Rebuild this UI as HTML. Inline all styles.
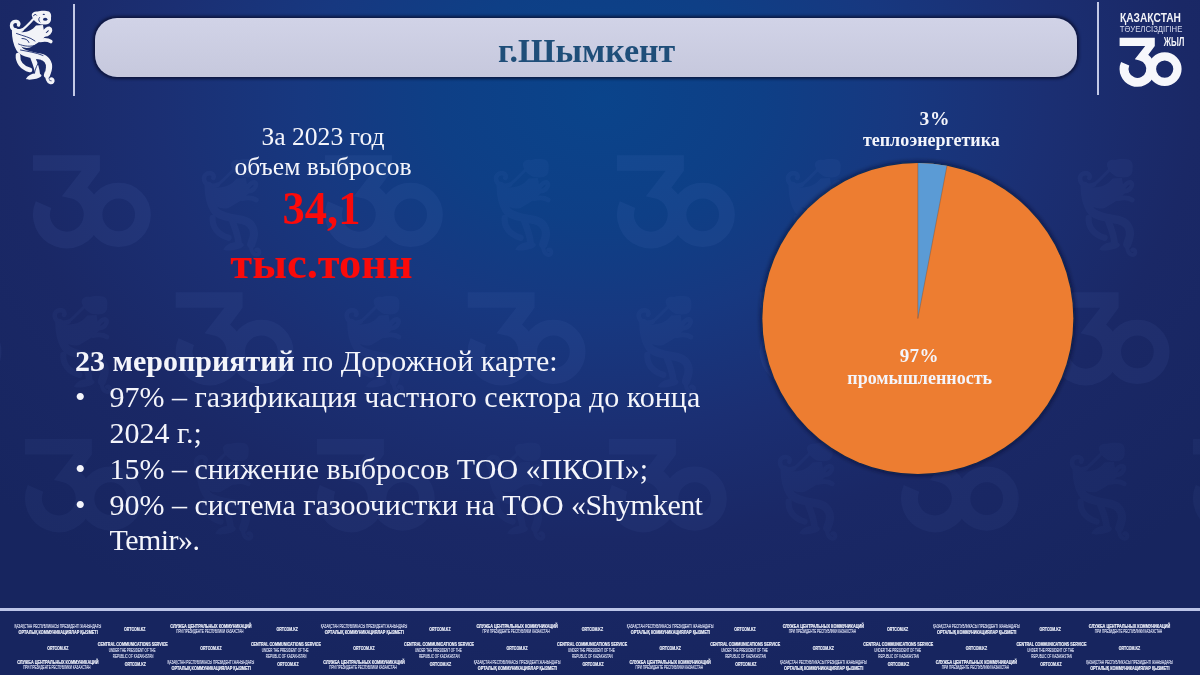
<!DOCTYPE html>
<html>
<head>
<meta charset="utf-8">
<style>
html,body{margin:0;padding:0;}
body{width:1200px;height:675px;overflow:hidden;position:relative;
  background:#17255f;
  font-family:"Liberation Serif", serif;}
#bg{position:absolute;left:0;top:0;width:1200px;height:675px;
  background:radial-gradient(ellipse 540px 400px at 600px 100px,#0a448b 0%,#0e3f86 30%,#173880 55%,#1b2f73 82%,#1a2866 110%,#17255f 150%);}
#wrap{position:absolute;left:0;top:0;width:1200px;height:675px;overflow:hidden;filter:blur(0.45px);}
.abs{position:absolute;white-space:nowrap;}
#pill{position:absolute;left:95px;top:17.5px;width:982px;height:59px;border-radius:22px;
  background:linear-gradient(#d1d3e7,#c6c8dd);
  box-shadow:0 0 3px 1.5px rgba(8,12,40,0.7);filter:blur(0.7px);}
#title{left:486.65px;width:200px;top:33.5px;text-align:center;font-weight:bold;font-size:34px;line-height:34px;color:#1f4e79;}
.vline{position:absolute;width:2px;background:#c3c9e6;}
.w{color:#f4f5fb;}
.red{color:#fb0a0a;font-weight:bold;}
#left1{left:223px;width:200px;top:121.8px;text-align:center;font-size:25.6px;line-height:29.7px;}
#left2{left:221.5px;width:200px;top:182.2px;text-align:center;font-size:44.5px;line-height:54.1px;}
#list{left:75px;top:342.9px;font-size:30px;line-height:35.9px;color:#f4f5fb;}
#list .li{position:relative;padding-left:34.5px;}
#list .li:before{content:"•";position:absolute;left:0;}
#list .n{padding-left:34.5px;}
.lab{position:absolute;text-align:center;font-weight:bold;font-size:18px;line-height:21.5px;color:#f4f5fb;}
#footline{position:absolute;left:0;top:608px;width:1200px;height:2.5px;background:#bcc5e8;}
.ft{position:absolute;font-family:"Liberation Sans",sans-serif;color:#e4e7f5;text-align:center;white-space:nowrap;font-weight:bold;font-size:10px;line-height:11px;transform:scale(0.5);transform-origin:0 0;letter-spacing:-0.3px;}
.ft .thin{font-weight:normal;color:#cfd4ec;}
</style>
</head>
<body>
<div id="wrap">
<div id="bg"></div>
<svg class="abs" style="left:0;top:0" width="1200" height="675" viewBox="0 0 1200 675"><g transform="translate(-259.0,155.2) scale(1.9)" opacity="0.085"><g fill="#6a8ad8"><path d="M0 0 H35.2 V8.2 L28.5 17.2 L20.1 22.8 L15.2 21.6 L25.6 8.2 H0 Z"/></g>
<g fill="none" stroke="#6a8ad8" stroke-width="8.9">
<path d="M21.26 18.4 A13.35 13.35 0 1 1 5.55 26"/>
<circle cx="45.1" cy="31.4" r="12.75" stroke-width="8.3"/>
</g>
</g><g transform="translate(-103.3,144.7) scale(1.33)" opacity="0.059">
  <g fill="#6a8ad8">
    <path d="M31.7 15 C32 12.5 34.5 11 37.7 11.5 C40 10.5 46 10.3 49 11.5 C51 12.8 51.5 15.5 51 18 C51.3 20 50.5 22 49.5 23 C48 24.5 45 24.8 42 24.5 C39.5 24.5 37.5 23.5 36 22 C34 20.5 32 17.5 31.7 15 Z"/>
    <path d="M16 31 C23 33.5 31 32 36 25.5 L43 25 C43.5 29 44.5 33 45.5 36 C42 40.5 36 44.5 30 47.5 C25 49 19.5 47 16.5 42 Z"/>
    <path d="M26 78.8 C28 75.5 31 73.5 36 73.2 C39 73 41.5 74 41.5 75.5 C41 77.5 38 78.5 33 79.3 C30 79.8 27 79.8 26 78.8 Z"/>
  </g>
  <g fill="none" stroke="#6a8ad8" stroke-linecap="round" stroke-linejoin="round">
    <path d="M33.5 19 C30 22.5 26 27 22 30" stroke-width="2.2"/>
    <path d="M22 30 C17 32 11.5 30 11.5 25.5 C11.5 22.5 14 21 16.5 21.5 C18.5 22 19.5 23.5 18.5 25" stroke-width="3.4"/>
    <path d="M15 31 C15 38 16.5 44 19 48.5 C22 54 32 55 40 56.5 C47 58 49.5 63 49 68 C48.7 71 47.5 73 47 75" stroke-width="6.2"/>
    <path d="M47 75 C46.5 78 47.5 82 50.5 82.8 C52.5 83.2 53.5 81.5 53 80 C52.5 78.8 51.5 78.5 50.8 79" stroke-width="3"/>
    <path d="M43.5 33 C45.5 30 47.5 28 49.5 28.3 C51 28.8 51 31 49.3 33 C47.8 34.5 46 35 44.5 35" stroke-width="3.4"/>
    <path d="M40 40.5 C44.5 39.5 48.5 40 50.8 41.5" stroke-width="3.6"/>
    <path d="M18 55 C17.5 61.5 21.5 67.5 30 70" stroke-width="4.6"/>
    <path d="M33 58 C35 63 37 68 37.5 74" stroke-width="5"/>
  </g>
  <g fill="none" stroke="none" stroke-width="0.9" stroke-linecap="round">
    <path d="M39.5 17.5 C38.2 19 38.5 21 40 22"/><path d="M33.5 15.8 C34 14.2 36 13.8 36.6 15.2"/>
    <path d="M16.5 33.5 C23 36 30 37 35 41"/>
    <path d="M22 38.5 C25 38.5 28 39.5 29 42.5"/>
    <path d="M20.5 50 C28 51.5 36 52.5 43 55.5"/>
    <path d="M40 60 C37.5 64 35 69 34.5 73"/>
    <path d="M22 59 C23.5 62.5 26 64.5 29.5 65.5"/><path d="M18.5 44 C24 46.5 31 47 36.5 45"/><path d="M37 60.5 C41 62.5 44.5 66 45 71"/>
  </g>
  <ellipse cx="45.2" cy="19.2" rx="2.2" ry="1.5" fill="none"/><ellipse cx="43.8" cy="14.3" rx="1.2" ry="0.6" fill="none"/>
</g><g transform="translate(33.0,155.2) scale(1.9)" opacity="0.085"><g fill="#6a8ad8"><path d="M0 0 H35.2 V8.2 L28.5 17.2 L20.1 22.8 L15.2 21.6 L25.6 8.2 H0 Z"/></g>
<g fill="none" stroke="#6a8ad8" stroke-width="8.9">
<path d="M21.26 18.4 A13.35 13.35 0 1 1 5.55 26"/>
<circle cx="45.1" cy="31.4" r="12.75" stroke-width="8.3"/>
</g>
</g><g transform="translate(188.7,144.7) scale(1.33)" opacity="0.059">
  <g fill="#6a8ad8">
    <path d="M31.7 15 C32 12.5 34.5 11 37.7 11.5 C40 10.5 46 10.3 49 11.5 C51 12.8 51.5 15.5 51 18 C51.3 20 50.5 22 49.5 23 C48 24.5 45 24.8 42 24.5 C39.5 24.5 37.5 23.5 36 22 C34 20.5 32 17.5 31.7 15 Z"/>
    <path d="M16 31 C23 33.5 31 32 36 25.5 L43 25 C43.5 29 44.5 33 45.5 36 C42 40.5 36 44.5 30 47.5 C25 49 19.5 47 16.5 42 Z"/>
    <path d="M26 78.8 C28 75.5 31 73.5 36 73.2 C39 73 41.5 74 41.5 75.5 C41 77.5 38 78.5 33 79.3 C30 79.8 27 79.8 26 78.8 Z"/>
  </g>
  <g fill="none" stroke="#6a8ad8" stroke-linecap="round" stroke-linejoin="round">
    <path d="M33.5 19 C30 22.5 26 27 22 30" stroke-width="2.2"/>
    <path d="M22 30 C17 32 11.5 30 11.5 25.5 C11.5 22.5 14 21 16.5 21.5 C18.5 22 19.5 23.5 18.5 25" stroke-width="3.4"/>
    <path d="M15 31 C15 38 16.5 44 19 48.5 C22 54 32 55 40 56.5 C47 58 49.5 63 49 68 C48.7 71 47.5 73 47 75" stroke-width="6.2"/>
    <path d="M47 75 C46.5 78 47.5 82 50.5 82.8 C52.5 83.2 53.5 81.5 53 80 C52.5 78.8 51.5 78.5 50.8 79" stroke-width="3"/>
    <path d="M43.5 33 C45.5 30 47.5 28 49.5 28.3 C51 28.8 51 31 49.3 33 C47.8 34.5 46 35 44.5 35" stroke-width="3.4"/>
    <path d="M40 40.5 C44.5 39.5 48.5 40 50.8 41.5" stroke-width="3.6"/>
    <path d="M18 55 C17.5 61.5 21.5 67.5 30 70" stroke-width="4.6"/>
    <path d="M33 58 C35 63 37 68 37.5 74" stroke-width="5"/>
  </g>
  <g fill="none" stroke="none" stroke-width="0.9" stroke-linecap="round">
    <path d="M39.5 17.5 C38.2 19 38.5 21 40 22"/><path d="M33.5 15.8 C34 14.2 36 13.8 36.6 15.2"/>
    <path d="M16.5 33.5 C23 36 30 37 35 41"/>
    <path d="M22 38.5 C25 38.5 28 39.5 29 42.5"/>
    <path d="M20.5 50 C28 51.5 36 52.5 43 55.5"/>
    <path d="M40 60 C37.5 64 35 69 34.5 73"/>
    <path d="M22 59 C23.5 62.5 26 64.5 29.5 65.5"/><path d="M18.5 44 C24 46.5 31 47 36.5 45"/><path d="M37 60.5 C41 62.5 44.5 66 45 71"/>
  </g>
  <ellipse cx="45.2" cy="19.2" rx="2.2" ry="1.5" fill="none"/><ellipse cx="43.8" cy="14.3" rx="1.2" ry="0.6" fill="none"/>
</g><g transform="translate(325.0,155.2) scale(1.9)" opacity="0.085"><g fill="#6a8ad8"><path d="M0 0 H35.2 V8.2 L28.5 17.2 L20.1 22.8 L15.2 21.6 L25.6 8.2 H0 Z"/></g>
<g fill="none" stroke="#6a8ad8" stroke-width="8.9">
<path d="M21.26 18.4 A13.35 13.35 0 1 1 5.55 26"/>
<circle cx="45.1" cy="31.4" r="12.75" stroke-width="8.3"/>
</g>
</g><g transform="translate(480.7,144.7) scale(1.33)" opacity="0.059">
  <g fill="#6a8ad8">
    <path d="M31.7 15 C32 12.5 34.5 11 37.7 11.5 C40 10.5 46 10.3 49 11.5 C51 12.8 51.5 15.5 51 18 C51.3 20 50.5 22 49.5 23 C48 24.5 45 24.8 42 24.5 C39.5 24.5 37.5 23.5 36 22 C34 20.5 32 17.5 31.7 15 Z"/>
    <path d="M16 31 C23 33.5 31 32 36 25.5 L43 25 C43.5 29 44.5 33 45.5 36 C42 40.5 36 44.5 30 47.5 C25 49 19.5 47 16.5 42 Z"/>
    <path d="M26 78.8 C28 75.5 31 73.5 36 73.2 C39 73 41.5 74 41.5 75.5 C41 77.5 38 78.5 33 79.3 C30 79.8 27 79.8 26 78.8 Z"/>
  </g>
  <g fill="none" stroke="#6a8ad8" stroke-linecap="round" stroke-linejoin="round">
    <path d="M33.5 19 C30 22.5 26 27 22 30" stroke-width="2.2"/>
    <path d="M22 30 C17 32 11.5 30 11.5 25.5 C11.5 22.5 14 21 16.5 21.5 C18.5 22 19.5 23.5 18.5 25" stroke-width="3.4"/>
    <path d="M15 31 C15 38 16.5 44 19 48.5 C22 54 32 55 40 56.5 C47 58 49.5 63 49 68 C48.7 71 47.5 73 47 75" stroke-width="6.2"/>
    <path d="M47 75 C46.5 78 47.5 82 50.5 82.8 C52.5 83.2 53.5 81.5 53 80 C52.5 78.8 51.5 78.5 50.8 79" stroke-width="3"/>
    <path d="M43.5 33 C45.5 30 47.5 28 49.5 28.3 C51 28.8 51 31 49.3 33 C47.8 34.5 46 35 44.5 35" stroke-width="3.4"/>
    <path d="M40 40.5 C44.5 39.5 48.5 40 50.8 41.5" stroke-width="3.6"/>
    <path d="M18 55 C17.5 61.5 21.5 67.5 30 70" stroke-width="4.6"/>
    <path d="M33 58 C35 63 37 68 37.5 74" stroke-width="5"/>
  </g>
  <g fill="none" stroke="none" stroke-width="0.9" stroke-linecap="round">
    <path d="M39.5 17.5 C38.2 19 38.5 21 40 22"/><path d="M33.5 15.8 C34 14.2 36 13.8 36.6 15.2"/>
    <path d="M16.5 33.5 C23 36 30 37 35 41"/>
    <path d="M22 38.5 C25 38.5 28 39.5 29 42.5"/>
    <path d="M20.5 50 C28 51.5 36 52.5 43 55.5"/>
    <path d="M40 60 C37.5 64 35 69 34.5 73"/>
    <path d="M22 59 C23.5 62.5 26 64.5 29.5 65.5"/><path d="M18.5 44 C24 46.5 31 47 36.5 45"/><path d="M37 60.5 C41 62.5 44.5 66 45 71"/>
  </g>
  <ellipse cx="45.2" cy="19.2" rx="2.2" ry="1.5" fill="none"/><ellipse cx="43.8" cy="14.3" rx="1.2" ry="0.6" fill="none"/>
</g><g transform="translate(617.0,155.2) scale(1.9)" opacity="0.085"><g fill="#6a8ad8"><path d="M0 0 H35.2 V8.2 L28.5 17.2 L20.1 22.8 L15.2 21.6 L25.6 8.2 H0 Z"/></g>
<g fill="none" stroke="#6a8ad8" stroke-width="8.9">
<path d="M21.26 18.4 A13.35 13.35 0 1 1 5.55 26"/>
<circle cx="45.1" cy="31.4" r="12.75" stroke-width="8.3"/>
</g>
</g><g transform="translate(772.7,144.7) scale(1.33)" opacity="0.059">
  <g fill="#6a8ad8">
    <path d="M31.7 15 C32 12.5 34.5 11 37.7 11.5 C40 10.5 46 10.3 49 11.5 C51 12.8 51.5 15.5 51 18 C51.3 20 50.5 22 49.5 23 C48 24.5 45 24.8 42 24.5 C39.5 24.5 37.5 23.5 36 22 C34 20.5 32 17.5 31.7 15 Z"/>
    <path d="M16 31 C23 33.5 31 32 36 25.5 L43 25 C43.5 29 44.5 33 45.5 36 C42 40.5 36 44.5 30 47.5 C25 49 19.5 47 16.5 42 Z"/>
    <path d="M26 78.8 C28 75.5 31 73.5 36 73.2 C39 73 41.5 74 41.5 75.5 C41 77.5 38 78.5 33 79.3 C30 79.8 27 79.8 26 78.8 Z"/>
  </g>
  <g fill="none" stroke="#6a8ad8" stroke-linecap="round" stroke-linejoin="round">
    <path d="M33.5 19 C30 22.5 26 27 22 30" stroke-width="2.2"/>
    <path d="M22 30 C17 32 11.5 30 11.5 25.5 C11.5 22.5 14 21 16.5 21.5 C18.5 22 19.5 23.5 18.5 25" stroke-width="3.4"/>
    <path d="M15 31 C15 38 16.5 44 19 48.5 C22 54 32 55 40 56.5 C47 58 49.5 63 49 68 C48.7 71 47.5 73 47 75" stroke-width="6.2"/>
    <path d="M47 75 C46.5 78 47.5 82 50.5 82.8 C52.5 83.2 53.5 81.5 53 80 C52.5 78.8 51.5 78.5 50.8 79" stroke-width="3"/>
    <path d="M43.5 33 C45.5 30 47.5 28 49.5 28.3 C51 28.8 51 31 49.3 33 C47.8 34.5 46 35 44.5 35" stroke-width="3.4"/>
    <path d="M40 40.5 C44.5 39.5 48.5 40 50.8 41.5" stroke-width="3.6"/>
    <path d="M18 55 C17.5 61.5 21.5 67.5 30 70" stroke-width="4.6"/>
    <path d="M33 58 C35 63 37 68 37.5 74" stroke-width="5"/>
  </g>
  <g fill="none" stroke="none" stroke-width="0.9" stroke-linecap="round">
    <path d="M39.5 17.5 C38.2 19 38.5 21 40 22"/><path d="M33.5 15.8 C34 14.2 36 13.8 36.6 15.2"/>
    <path d="M16.5 33.5 C23 36 30 37 35 41"/>
    <path d="M22 38.5 C25 38.5 28 39.5 29 42.5"/>
    <path d="M20.5 50 C28 51.5 36 52.5 43 55.5"/>
    <path d="M40 60 C37.5 64 35 69 34.5 73"/>
    <path d="M22 59 C23.5 62.5 26 64.5 29.5 65.5"/><path d="M18.5 44 C24 46.5 31 47 36.5 45"/><path d="M37 60.5 C41 62.5 44.5 66 45 71"/>
  </g>
  <ellipse cx="45.2" cy="19.2" rx="2.2" ry="1.5" fill="none"/><ellipse cx="43.8" cy="14.3" rx="1.2" ry="0.6" fill="none"/>
</g><g transform="translate(1064.7,144.7) scale(1.33)" opacity="0.059">
  <g fill="#6a8ad8">
    <path d="M31.7 15 C32 12.5 34.5 11 37.7 11.5 C40 10.5 46 10.3 49 11.5 C51 12.8 51.5 15.5 51 18 C51.3 20 50.5 22 49.5 23 C48 24.5 45 24.8 42 24.5 C39.5 24.5 37.5 23.5 36 22 C34 20.5 32 17.5 31.7 15 Z"/>
    <path d="M16 31 C23 33.5 31 32 36 25.5 L43 25 C43.5 29 44.5 33 45.5 36 C42 40.5 36 44.5 30 47.5 C25 49 19.5 47 16.5 42 Z"/>
    <path d="M26 78.8 C28 75.5 31 73.5 36 73.2 C39 73 41.5 74 41.5 75.5 C41 77.5 38 78.5 33 79.3 C30 79.8 27 79.8 26 78.8 Z"/>
  </g>
  <g fill="none" stroke="#6a8ad8" stroke-linecap="round" stroke-linejoin="round">
    <path d="M33.5 19 C30 22.5 26 27 22 30" stroke-width="2.2"/>
    <path d="M22 30 C17 32 11.5 30 11.5 25.5 C11.5 22.5 14 21 16.5 21.5 C18.5 22 19.5 23.5 18.5 25" stroke-width="3.4"/>
    <path d="M15 31 C15 38 16.5 44 19 48.5 C22 54 32 55 40 56.5 C47 58 49.5 63 49 68 C48.7 71 47.5 73 47 75" stroke-width="6.2"/>
    <path d="M47 75 C46.5 78 47.5 82 50.5 82.8 C52.5 83.2 53.5 81.5 53 80 C52.5 78.8 51.5 78.5 50.8 79" stroke-width="3"/>
    <path d="M43.5 33 C45.5 30 47.5 28 49.5 28.3 C51 28.8 51 31 49.3 33 C47.8 34.5 46 35 44.5 35" stroke-width="3.4"/>
    <path d="M40 40.5 C44.5 39.5 48.5 40 50.8 41.5" stroke-width="3.6"/>
    <path d="M18 55 C17.5 61.5 21.5 67.5 30 70" stroke-width="4.6"/>
    <path d="M33 58 C35 63 37 68 37.5 74" stroke-width="5"/>
  </g>
  <g fill="none" stroke="none" stroke-width="0.9" stroke-linecap="round">
    <path d="M39.5 17.5 C38.2 19 38.5 21 40 22"/><path d="M33.5 15.8 C34 14.2 36 13.8 36.6 15.2"/>
    <path d="M16.5 33.5 C23 36 30 37 35 41"/>
    <path d="M22 38.5 C25 38.5 28 39.5 29 42.5"/>
    <path d="M20.5 50 C28 51.5 36 52.5 43 55.5"/>
    <path d="M40 60 C37.5 64 35 69 34.5 73"/>
    <path d="M22 59 C23.5 62.5 26 64.5 29.5 65.5"/><path d="M18.5 44 C24 46.5 31 47 36.5 45"/><path d="M37 60.5 C41 62.5 44.5 66 45 71"/>
  </g>
  <ellipse cx="45.2" cy="19.2" rx="2.2" ry="1.5" fill="none"/><ellipse cx="43.8" cy="14.3" rx="1.2" ry="0.6" fill="none"/>
</g><g transform="translate(1201.0,155.2) scale(1.9)" opacity="0.085"><g fill="#6a8ad8"><path d="M0 0 H35.2 V8.2 L28.5 17.2 L20.1 22.8 L15.2 21.6 L25.6 8.2 H0 Z"/></g>
<g fill="none" stroke="#6a8ad8" stroke-width="8.9">
<path d="M21.26 18.4 A13.35 13.35 0 1 1 5.55 26"/>
<circle cx="45.1" cy="31.4" r="12.75" stroke-width="8.3"/>
</g>
</g><g transform="translate(1356.7,144.7) scale(1.33)" opacity="0.059">
  <g fill="#6a8ad8">
    <path d="M31.7 15 C32 12.5 34.5 11 37.7 11.5 C40 10.5 46 10.3 49 11.5 C51 12.8 51.5 15.5 51 18 C51.3 20 50.5 22 49.5 23 C48 24.5 45 24.8 42 24.5 C39.5 24.5 37.5 23.5 36 22 C34 20.5 32 17.5 31.7 15 Z"/>
    <path d="M16 31 C23 33.5 31 32 36 25.5 L43 25 C43.5 29 44.5 33 45.5 36 C42 40.5 36 44.5 30 47.5 C25 49 19.5 47 16.5 42 Z"/>
    <path d="M26 78.8 C28 75.5 31 73.5 36 73.2 C39 73 41.5 74 41.5 75.5 C41 77.5 38 78.5 33 79.3 C30 79.8 27 79.8 26 78.8 Z"/>
  </g>
  <g fill="none" stroke="#6a8ad8" stroke-linecap="round" stroke-linejoin="round">
    <path d="M33.5 19 C30 22.5 26 27 22 30" stroke-width="2.2"/>
    <path d="M22 30 C17 32 11.5 30 11.5 25.5 C11.5 22.5 14 21 16.5 21.5 C18.5 22 19.5 23.5 18.5 25" stroke-width="3.4"/>
    <path d="M15 31 C15 38 16.5 44 19 48.5 C22 54 32 55 40 56.5 C47 58 49.5 63 49 68 C48.7 71 47.5 73 47 75" stroke-width="6.2"/>
    <path d="M47 75 C46.5 78 47.5 82 50.5 82.8 C52.5 83.2 53.5 81.5 53 80 C52.5 78.8 51.5 78.5 50.8 79" stroke-width="3"/>
    <path d="M43.5 33 C45.5 30 47.5 28 49.5 28.3 C51 28.8 51 31 49.3 33 C47.8 34.5 46 35 44.5 35" stroke-width="3.4"/>
    <path d="M40 40.5 C44.5 39.5 48.5 40 50.8 41.5" stroke-width="3.6"/>
    <path d="M18 55 C17.5 61.5 21.5 67.5 30 70" stroke-width="4.6"/>
    <path d="M33 58 C35 63 37 68 37.5 74" stroke-width="5"/>
  </g>
  <g fill="none" stroke="none" stroke-width="0.9" stroke-linecap="round">
    <path d="M39.5 17.5 C38.2 19 38.5 21 40 22"/><path d="M33.5 15.8 C34 14.2 36 13.8 36.6 15.2"/>
    <path d="M16.5 33.5 C23 36 30 37 35 41"/>
    <path d="M22 38.5 C25 38.5 28 39.5 29 42.5"/>
    <path d="M20.5 50 C28 51.5 36 52.5 43 55.5"/>
    <path d="M40 60 C37.5 64 35 69 34.5 73"/>
    <path d="M22 59 C23.5 62.5 26 64.5 29.5 65.5"/><path d="M18.5 44 C24 46.5 31 47 36.5 45"/><path d="M37 60.5 C41 62.5 44.5 66 45 71"/>
  </g>
  <ellipse cx="45.2" cy="19.2" rx="2.2" ry="1.5" fill="none"/><ellipse cx="43.8" cy="14.3" rx="1.2" ry="0.6" fill="none"/>
</g><g transform="translate(-408.3,292.2) scale(1.9)" opacity="0.075"><g fill="#6a8ad8"><path d="M0 0 H35.2 V8.2 L28.5 17.2 L20.1 22.8 L15.2 21.6 L25.6 8.2 H0 Z"/></g>
<g fill="none" stroke="#6a8ad8" stroke-width="8.9">
<path d="M21.26 18.4 A13.35 13.35 0 1 1 5.55 26"/>
<circle cx="45.1" cy="31.4" r="12.75" stroke-width="8.3"/>
</g>
</g><g transform="translate(-252.6,281.7) scale(1.33)" opacity="0.052">
  <g fill="#6a8ad8">
    <path d="M31.7 15 C32 12.5 34.5 11 37.7 11.5 C40 10.5 46 10.3 49 11.5 C51 12.8 51.5 15.5 51 18 C51.3 20 50.5 22 49.5 23 C48 24.5 45 24.8 42 24.5 C39.5 24.5 37.5 23.5 36 22 C34 20.5 32 17.5 31.7 15 Z"/>
    <path d="M16 31 C23 33.5 31 32 36 25.5 L43 25 C43.5 29 44.5 33 45.5 36 C42 40.5 36 44.5 30 47.5 C25 49 19.5 47 16.5 42 Z"/>
    <path d="M26 78.8 C28 75.5 31 73.5 36 73.2 C39 73 41.5 74 41.5 75.5 C41 77.5 38 78.5 33 79.3 C30 79.8 27 79.8 26 78.8 Z"/>
  </g>
  <g fill="none" stroke="#6a8ad8" stroke-linecap="round" stroke-linejoin="round">
    <path d="M33.5 19 C30 22.5 26 27 22 30" stroke-width="2.2"/>
    <path d="M22 30 C17 32 11.5 30 11.5 25.5 C11.5 22.5 14 21 16.5 21.5 C18.5 22 19.5 23.5 18.5 25" stroke-width="3.4"/>
    <path d="M15 31 C15 38 16.5 44 19 48.5 C22 54 32 55 40 56.5 C47 58 49.5 63 49 68 C48.7 71 47.5 73 47 75" stroke-width="6.2"/>
    <path d="M47 75 C46.5 78 47.5 82 50.5 82.8 C52.5 83.2 53.5 81.5 53 80 C52.5 78.8 51.5 78.5 50.8 79" stroke-width="3"/>
    <path d="M43.5 33 C45.5 30 47.5 28 49.5 28.3 C51 28.8 51 31 49.3 33 C47.8 34.5 46 35 44.5 35" stroke-width="3.4"/>
    <path d="M40 40.5 C44.5 39.5 48.5 40 50.8 41.5" stroke-width="3.6"/>
    <path d="M18 55 C17.5 61.5 21.5 67.5 30 70" stroke-width="4.6"/>
    <path d="M33 58 C35 63 37 68 37.5 74" stroke-width="5"/>
  </g>
  <g fill="none" stroke="none" stroke-width="0.9" stroke-linecap="round">
    <path d="M39.5 17.5 C38.2 19 38.5 21 40 22"/><path d="M33.5 15.8 C34 14.2 36 13.8 36.6 15.2"/>
    <path d="M16.5 33.5 C23 36 30 37 35 41"/>
    <path d="M22 38.5 C25 38.5 28 39.5 29 42.5"/>
    <path d="M20.5 50 C28 51.5 36 52.5 43 55.5"/>
    <path d="M40 60 C37.5 64 35 69 34.5 73"/>
    <path d="M22 59 C23.5 62.5 26 64.5 29.5 65.5"/><path d="M18.5 44 C24 46.5 31 47 36.5 45"/><path d="M37 60.5 C41 62.5 44.5 66 45 71"/>
  </g>
  <ellipse cx="45.2" cy="19.2" rx="2.2" ry="1.5" fill="none"/><ellipse cx="43.8" cy="14.3" rx="1.2" ry="0.6" fill="none"/>
</g><g transform="translate(-116.3,292.2) scale(1.9)" opacity="0.075"><g fill="#6a8ad8"><path d="M0 0 H35.2 V8.2 L28.5 17.2 L20.1 22.8 L15.2 21.6 L25.6 8.2 H0 Z"/></g>
<g fill="none" stroke="#6a8ad8" stroke-width="8.9">
<path d="M21.26 18.4 A13.35 13.35 0 1 1 5.55 26"/>
<circle cx="45.1" cy="31.4" r="12.75" stroke-width="8.3"/>
</g>
</g><g transform="translate(39.4,281.7) scale(1.33)" opacity="0.052">
  <g fill="#6a8ad8">
    <path d="M31.7 15 C32 12.5 34.5 11 37.7 11.5 C40 10.5 46 10.3 49 11.5 C51 12.8 51.5 15.5 51 18 C51.3 20 50.5 22 49.5 23 C48 24.5 45 24.8 42 24.5 C39.5 24.5 37.5 23.5 36 22 C34 20.5 32 17.5 31.7 15 Z"/>
    <path d="M16 31 C23 33.5 31 32 36 25.5 L43 25 C43.5 29 44.5 33 45.5 36 C42 40.5 36 44.5 30 47.5 C25 49 19.5 47 16.5 42 Z"/>
    <path d="M26 78.8 C28 75.5 31 73.5 36 73.2 C39 73 41.5 74 41.5 75.5 C41 77.5 38 78.5 33 79.3 C30 79.8 27 79.8 26 78.8 Z"/>
  </g>
  <g fill="none" stroke="#6a8ad8" stroke-linecap="round" stroke-linejoin="round">
    <path d="M33.5 19 C30 22.5 26 27 22 30" stroke-width="2.2"/>
    <path d="M22 30 C17 32 11.5 30 11.5 25.5 C11.5 22.5 14 21 16.5 21.5 C18.5 22 19.5 23.5 18.5 25" stroke-width="3.4"/>
    <path d="M15 31 C15 38 16.5 44 19 48.5 C22 54 32 55 40 56.5 C47 58 49.5 63 49 68 C48.7 71 47.5 73 47 75" stroke-width="6.2"/>
    <path d="M47 75 C46.5 78 47.5 82 50.5 82.8 C52.5 83.2 53.5 81.5 53 80 C52.5 78.8 51.5 78.5 50.8 79" stroke-width="3"/>
    <path d="M43.5 33 C45.5 30 47.5 28 49.5 28.3 C51 28.8 51 31 49.3 33 C47.8 34.5 46 35 44.5 35" stroke-width="3.4"/>
    <path d="M40 40.5 C44.5 39.5 48.5 40 50.8 41.5" stroke-width="3.6"/>
    <path d="M18 55 C17.5 61.5 21.5 67.5 30 70" stroke-width="4.6"/>
    <path d="M33 58 C35 63 37 68 37.5 74" stroke-width="5"/>
  </g>
  <g fill="none" stroke="none" stroke-width="0.9" stroke-linecap="round">
    <path d="M39.5 17.5 C38.2 19 38.5 21 40 22"/><path d="M33.5 15.8 C34 14.2 36 13.8 36.6 15.2"/>
    <path d="M16.5 33.5 C23 36 30 37 35 41"/>
    <path d="M22 38.5 C25 38.5 28 39.5 29 42.5"/>
    <path d="M20.5 50 C28 51.5 36 52.5 43 55.5"/>
    <path d="M40 60 C37.5 64 35 69 34.5 73"/>
    <path d="M22 59 C23.5 62.5 26 64.5 29.5 65.5"/><path d="M18.5 44 C24 46.5 31 47 36.5 45"/><path d="M37 60.5 C41 62.5 44.5 66 45 71"/>
  </g>
  <ellipse cx="45.2" cy="19.2" rx="2.2" ry="1.5" fill="none"/><ellipse cx="43.8" cy="14.3" rx="1.2" ry="0.6" fill="none"/>
</g><g transform="translate(175.7,292.2) scale(1.9)" opacity="0.075"><g fill="#6a8ad8"><path d="M0 0 H35.2 V8.2 L28.5 17.2 L20.1 22.8 L15.2 21.6 L25.6 8.2 H0 Z"/></g>
<g fill="none" stroke="#6a8ad8" stroke-width="8.9">
<path d="M21.26 18.4 A13.35 13.35 0 1 1 5.55 26"/>
<circle cx="45.1" cy="31.4" r="12.75" stroke-width="8.3"/>
</g>
</g><g transform="translate(331.4,281.7) scale(1.33)" opacity="0.052">
  <g fill="#6a8ad8">
    <path d="M31.7 15 C32 12.5 34.5 11 37.7 11.5 C40 10.5 46 10.3 49 11.5 C51 12.8 51.5 15.5 51 18 C51.3 20 50.5 22 49.5 23 C48 24.5 45 24.8 42 24.5 C39.5 24.5 37.5 23.5 36 22 C34 20.5 32 17.5 31.7 15 Z"/>
    <path d="M16 31 C23 33.5 31 32 36 25.5 L43 25 C43.5 29 44.5 33 45.5 36 C42 40.5 36 44.5 30 47.5 C25 49 19.5 47 16.5 42 Z"/>
    <path d="M26 78.8 C28 75.5 31 73.5 36 73.2 C39 73 41.5 74 41.5 75.5 C41 77.5 38 78.5 33 79.3 C30 79.8 27 79.8 26 78.8 Z"/>
  </g>
  <g fill="none" stroke="#6a8ad8" stroke-linecap="round" stroke-linejoin="round">
    <path d="M33.5 19 C30 22.5 26 27 22 30" stroke-width="2.2"/>
    <path d="M22 30 C17 32 11.5 30 11.5 25.5 C11.5 22.5 14 21 16.5 21.5 C18.5 22 19.5 23.5 18.5 25" stroke-width="3.4"/>
    <path d="M15 31 C15 38 16.5 44 19 48.5 C22 54 32 55 40 56.5 C47 58 49.5 63 49 68 C48.7 71 47.5 73 47 75" stroke-width="6.2"/>
    <path d="M47 75 C46.5 78 47.5 82 50.5 82.8 C52.5 83.2 53.5 81.5 53 80 C52.5 78.8 51.5 78.5 50.8 79" stroke-width="3"/>
    <path d="M43.5 33 C45.5 30 47.5 28 49.5 28.3 C51 28.8 51 31 49.3 33 C47.8 34.5 46 35 44.5 35" stroke-width="3.4"/>
    <path d="M40 40.5 C44.5 39.5 48.5 40 50.8 41.5" stroke-width="3.6"/>
    <path d="M18 55 C17.5 61.5 21.5 67.5 30 70" stroke-width="4.6"/>
    <path d="M33 58 C35 63 37 68 37.5 74" stroke-width="5"/>
  </g>
  <g fill="none" stroke="none" stroke-width="0.9" stroke-linecap="round">
    <path d="M39.5 17.5 C38.2 19 38.5 21 40 22"/><path d="M33.5 15.8 C34 14.2 36 13.8 36.6 15.2"/>
    <path d="M16.5 33.5 C23 36 30 37 35 41"/>
    <path d="M22 38.5 C25 38.5 28 39.5 29 42.5"/>
    <path d="M20.5 50 C28 51.5 36 52.5 43 55.5"/>
    <path d="M40 60 C37.5 64 35 69 34.5 73"/>
    <path d="M22 59 C23.5 62.5 26 64.5 29.5 65.5"/><path d="M18.5 44 C24 46.5 31 47 36.5 45"/><path d="M37 60.5 C41 62.5 44.5 66 45 71"/>
  </g>
  <ellipse cx="45.2" cy="19.2" rx="2.2" ry="1.5" fill="none"/><ellipse cx="43.8" cy="14.3" rx="1.2" ry="0.6" fill="none"/>
</g><g transform="translate(467.7,292.2) scale(1.9)" opacity="0.075"><g fill="#6a8ad8"><path d="M0 0 H35.2 V8.2 L28.5 17.2 L20.1 22.8 L15.2 21.6 L25.6 8.2 H0 Z"/></g>
<g fill="none" stroke="#6a8ad8" stroke-width="8.9">
<path d="M21.26 18.4 A13.35 13.35 0 1 1 5.55 26"/>
<circle cx="45.1" cy="31.4" r="12.75" stroke-width="8.3"/>
</g>
</g><g transform="translate(623.4,281.7) scale(1.33)" opacity="0.052">
  <g fill="#6a8ad8">
    <path d="M31.7 15 C32 12.5 34.5 11 37.7 11.5 C40 10.5 46 10.3 49 11.5 C51 12.8 51.5 15.5 51 18 C51.3 20 50.5 22 49.5 23 C48 24.5 45 24.8 42 24.5 C39.5 24.5 37.5 23.5 36 22 C34 20.5 32 17.5 31.7 15 Z"/>
    <path d="M16 31 C23 33.5 31 32 36 25.5 L43 25 C43.5 29 44.5 33 45.5 36 C42 40.5 36 44.5 30 47.5 C25 49 19.5 47 16.5 42 Z"/>
    <path d="M26 78.8 C28 75.5 31 73.5 36 73.2 C39 73 41.5 74 41.5 75.5 C41 77.5 38 78.5 33 79.3 C30 79.8 27 79.8 26 78.8 Z"/>
  </g>
  <g fill="none" stroke="#6a8ad8" stroke-linecap="round" stroke-linejoin="round">
    <path d="M33.5 19 C30 22.5 26 27 22 30" stroke-width="2.2"/>
    <path d="M22 30 C17 32 11.5 30 11.5 25.5 C11.5 22.5 14 21 16.5 21.5 C18.5 22 19.5 23.5 18.5 25" stroke-width="3.4"/>
    <path d="M15 31 C15 38 16.5 44 19 48.5 C22 54 32 55 40 56.5 C47 58 49.5 63 49 68 C48.7 71 47.5 73 47 75" stroke-width="6.2"/>
    <path d="M47 75 C46.5 78 47.5 82 50.5 82.8 C52.5 83.2 53.5 81.5 53 80 C52.5 78.8 51.5 78.5 50.8 79" stroke-width="3"/>
    <path d="M43.5 33 C45.5 30 47.5 28 49.5 28.3 C51 28.8 51 31 49.3 33 C47.8 34.5 46 35 44.5 35" stroke-width="3.4"/>
    <path d="M40 40.5 C44.5 39.5 48.5 40 50.8 41.5" stroke-width="3.6"/>
    <path d="M18 55 C17.5 61.5 21.5 67.5 30 70" stroke-width="4.6"/>
    <path d="M33 58 C35 63 37 68 37.5 74" stroke-width="5"/>
  </g>
  <g fill="none" stroke="none" stroke-width="0.9" stroke-linecap="round">
    <path d="M39.5 17.5 C38.2 19 38.5 21 40 22"/><path d="M33.5 15.8 C34 14.2 36 13.8 36.6 15.2"/>
    <path d="M16.5 33.5 C23 36 30 37 35 41"/>
    <path d="M22 38.5 C25 38.5 28 39.5 29 42.5"/>
    <path d="M20.5 50 C28 51.5 36 52.5 43 55.5"/>
    <path d="M40 60 C37.5 64 35 69 34.5 73"/>
    <path d="M22 59 C23.5 62.5 26 64.5 29.5 65.5"/><path d="M18.5 44 C24 46.5 31 47 36.5 45"/><path d="M37 60.5 C41 62.5 44.5 66 45 71"/>
  </g>
  <ellipse cx="45.2" cy="19.2" rx="2.2" ry="1.5" fill="none"/><ellipse cx="43.8" cy="14.3" rx="1.2" ry="0.6" fill="none"/>
</g><g transform="translate(759.7,292.2) scale(1.9)" opacity="0.075"><g fill="#6a8ad8"><path d="M0 0 H35.2 V8.2 L28.5 17.2 L20.1 22.8 L15.2 21.6 L25.6 8.2 H0 Z"/></g>
<g fill="none" stroke="#6a8ad8" stroke-width="8.9">
<path d="M21.26 18.4 A13.35 13.35 0 1 1 5.55 26"/>
<circle cx="45.1" cy="31.4" r="12.75" stroke-width="8.3"/>
</g>
</g><g transform="translate(915.4,281.7) scale(1.33)" opacity="0.052">
  <g fill="#6a8ad8">
    <path d="M31.7 15 C32 12.5 34.5 11 37.7 11.5 C40 10.5 46 10.3 49 11.5 C51 12.8 51.5 15.5 51 18 C51.3 20 50.5 22 49.5 23 C48 24.5 45 24.8 42 24.5 C39.5 24.5 37.5 23.5 36 22 C34 20.5 32 17.5 31.7 15 Z"/>
    <path d="M16 31 C23 33.5 31 32 36 25.5 L43 25 C43.5 29 44.5 33 45.5 36 C42 40.5 36 44.5 30 47.5 C25 49 19.5 47 16.5 42 Z"/>
    <path d="M26 78.8 C28 75.5 31 73.5 36 73.2 C39 73 41.5 74 41.5 75.5 C41 77.5 38 78.5 33 79.3 C30 79.8 27 79.8 26 78.8 Z"/>
  </g>
  <g fill="none" stroke="#6a8ad8" stroke-linecap="round" stroke-linejoin="round">
    <path d="M33.5 19 C30 22.5 26 27 22 30" stroke-width="2.2"/>
    <path d="M22 30 C17 32 11.5 30 11.5 25.5 C11.5 22.5 14 21 16.5 21.5 C18.5 22 19.5 23.5 18.5 25" stroke-width="3.4"/>
    <path d="M15 31 C15 38 16.5 44 19 48.5 C22 54 32 55 40 56.5 C47 58 49.5 63 49 68 C48.7 71 47.5 73 47 75" stroke-width="6.2"/>
    <path d="M47 75 C46.5 78 47.5 82 50.5 82.8 C52.5 83.2 53.5 81.5 53 80 C52.5 78.8 51.5 78.5 50.8 79" stroke-width="3"/>
    <path d="M43.5 33 C45.5 30 47.5 28 49.5 28.3 C51 28.8 51 31 49.3 33 C47.8 34.5 46 35 44.5 35" stroke-width="3.4"/>
    <path d="M40 40.5 C44.5 39.5 48.5 40 50.8 41.5" stroke-width="3.6"/>
    <path d="M18 55 C17.5 61.5 21.5 67.5 30 70" stroke-width="4.6"/>
    <path d="M33 58 C35 63 37 68 37.5 74" stroke-width="5"/>
  </g>
  <g fill="none" stroke="none" stroke-width="0.9" stroke-linecap="round">
    <path d="M39.5 17.5 C38.2 19 38.5 21 40 22"/><path d="M33.5 15.8 C34 14.2 36 13.8 36.6 15.2"/>
    <path d="M16.5 33.5 C23 36 30 37 35 41"/>
    <path d="M22 38.5 C25 38.5 28 39.5 29 42.5"/>
    <path d="M20.5 50 C28 51.5 36 52.5 43 55.5"/>
    <path d="M40 60 C37.5 64 35 69 34.5 73"/>
    <path d="M22 59 C23.5 62.5 26 64.5 29.5 65.5"/><path d="M18.5 44 C24 46.5 31 47 36.5 45"/><path d="M37 60.5 C41 62.5 44.5 66 45 71"/>
  </g>
  <ellipse cx="45.2" cy="19.2" rx="2.2" ry="1.5" fill="none"/><ellipse cx="43.8" cy="14.3" rx="1.2" ry="0.6" fill="none"/>
</g><g transform="translate(1051.7,292.2) scale(1.9)" opacity="0.075"><g fill="#6a8ad8"><path d="M0 0 H35.2 V8.2 L28.5 17.2 L20.1 22.8 L15.2 21.6 L25.6 8.2 H0 Z"/></g>
<g fill="none" stroke="#6a8ad8" stroke-width="8.9">
<path d="M21.26 18.4 A13.35 13.35 0 1 1 5.55 26"/>
<circle cx="45.1" cy="31.4" r="12.75" stroke-width="8.3"/>
</g>
</g><g transform="translate(1207.4,281.7) scale(1.33)" opacity="0.052">
  <g fill="#6a8ad8">
    <path d="M31.7 15 C32 12.5 34.5 11 37.7 11.5 C40 10.5 46 10.3 49 11.5 C51 12.8 51.5 15.5 51 18 C51.3 20 50.5 22 49.5 23 C48 24.5 45 24.8 42 24.5 C39.5 24.5 37.5 23.5 36 22 C34 20.5 32 17.5 31.7 15 Z"/>
    <path d="M16 31 C23 33.5 31 32 36 25.5 L43 25 C43.5 29 44.5 33 45.5 36 C42 40.5 36 44.5 30 47.5 C25 49 19.5 47 16.5 42 Z"/>
    <path d="M26 78.8 C28 75.5 31 73.5 36 73.2 C39 73 41.5 74 41.5 75.5 C41 77.5 38 78.5 33 79.3 C30 79.8 27 79.8 26 78.8 Z"/>
  </g>
  <g fill="none" stroke="#6a8ad8" stroke-linecap="round" stroke-linejoin="round">
    <path d="M33.5 19 C30 22.5 26 27 22 30" stroke-width="2.2"/>
    <path d="M22 30 C17 32 11.5 30 11.5 25.5 C11.5 22.5 14 21 16.5 21.5 C18.5 22 19.5 23.5 18.5 25" stroke-width="3.4"/>
    <path d="M15 31 C15 38 16.5 44 19 48.5 C22 54 32 55 40 56.5 C47 58 49.5 63 49 68 C48.7 71 47.5 73 47 75" stroke-width="6.2"/>
    <path d="M47 75 C46.5 78 47.5 82 50.5 82.8 C52.5 83.2 53.5 81.5 53 80 C52.5 78.8 51.5 78.5 50.8 79" stroke-width="3"/>
    <path d="M43.5 33 C45.5 30 47.5 28 49.5 28.3 C51 28.8 51 31 49.3 33 C47.8 34.5 46 35 44.5 35" stroke-width="3.4"/>
    <path d="M40 40.5 C44.5 39.5 48.5 40 50.8 41.5" stroke-width="3.6"/>
    <path d="M18 55 C17.5 61.5 21.5 67.5 30 70" stroke-width="4.6"/>
    <path d="M33 58 C35 63 37 68 37.5 74" stroke-width="5"/>
  </g>
  <g fill="none" stroke="none" stroke-width="0.9" stroke-linecap="round">
    <path d="M39.5 17.5 C38.2 19 38.5 21 40 22"/><path d="M33.5 15.8 C34 14.2 36 13.8 36.6 15.2"/>
    <path d="M16.5 33.5 C23 36 30 37 35 41"/>
    <path d="M22 38.5 C25 38.5 28 39.5 29 42.5"/>
    <path d="M20.5 50 C28 51.5 36 52.5 43 55.5"/>
    <path d="M40 60 C37.5 64 35 69 34.5 73"/>
    <path d="M22 59 C23.5 62.5 26 64.5 29.5 65.5"/><path d="M18.5 44 C24 46.5 31 47 36.5 45"/><path d="M37 60.5 C41 62.5 44.5 66 45 71"/>
  </g>
  <ellipse cx="45.2" cy="19.2" rx="2.2" ry="1.5" fill="none"/><ellipse cx="43.8" cy="14.3" rx="1.2" ry="0.6" fill="none"/>
</g><g transform="translate(-267.0,439.0) scale(1.9)" opacity="0.06"><g fill="#6a8ad8"><path d="M0 0 H35.2 V8.2 L28.5 17.2 L20.1 22.8 L15.2 21.6 L25.6 8.2 H0 Z"/></g>
<g fill="none" stroke="#6a8ad8" stroke-width="8.9">
<path d="M21.26 18.4 A13.35 13.35 0 1 1 5.55 26"/>
<circle cx="45.1" cy="31.4" r="12.75" stroke-width="8.3"/>
</g>
</g><g transform="translate(-111.3,428.5) scale(1.33)" opacity="0.042">
  <g fill="#6a8ad8">
    <path d="M31.7 15 C32 12.5 34.5 11 37.7 11.5 C40 10.5 46 10.3 49 11.5 C51 12.8 51.5 15.5 51 18 C51.3 20 50.5 22 49.5 23 C48 24.5 45 24.8 42 24.5 C39.5 24.5 37.5 23.5 36 22 C34 20.5 32 17.5 31.7 15 Z"/>
    <path d="M16 31 C23 33.5 31 32 36 25.5 L43 25 C43.5 29 44.5 33 45.5 36 C42 40.5 36 44.5 30 47.5 C25 49 19.5 47 16.5 42 Z"/>
    <path d="M26 78.8 C28 75.5 31 73.5 36 73.2 C39 73 41.5 74 41.5 75.5 C41 77.5 38 78.5 33 79.3 C30 79.8 27 79.8 26 78.8 Z"/>
  </g>
  <g fill="none" stroke="#6a8ad8" stroke-linecap="round" stroke-linejoin="round">
    <path d="M33.5 19 C30 22.5 26 27 22 30" stroke-width="2.2"/>
    <path d="M22 30 C17 32 11.5 30 11.5 25.5 C11.5 22.5 14 21 16.5 21.5 C18.5 22 19.5 23.5 18.5 25" stroke-width="3.4"/>
    <path d="M15 31 C15 38 16.5 44 19 48.5 C22 54 32 55 40 56.5 C47 58 49.5 63 49 68 C48.7 71 47.5 73 47 75" stroke-width="6.2"/>
    <path d="M47 75 C46.5 78 47.5 82 50.5 82.8 C52.5 83.2 53.5 81.5 53 80 C52.5 78.8 51.5 78.5 50.8 79" stroke-width="3"/>
    <path d="M43.5 33 C45.5 30 47.5 28 49.5 28.3 C51 28.8 51 31 49.3 33 C47.8 34.5 46 35 44.5 35" stroke-width="3.4"/>
    <path d="M40 40.5 C44.5 39.5 48.5 40 50.8 41.5" stroke-width="3.6"/>
    <path d="M18 55 C17.5 61.5 21.5 67.5 30 70" stroke-width="4.6"/>
    <path d="M33 58 C35 63 37 68 37.5 74" stroke-width="5"/>
  </g>
  <g fill="none" stroke="none" stroke-width="0.9" stroke-linecap="round">
    <path d="M39.5 17.5 C38.2 19 38.5 21 40 22"/><path d="M33.5 15.8 C34 14.2 36 13.8 36.6 15.2"/>
    <path d="M16.5 33.5 C23 36 30 37 35 41"/>
    <path d="M22 38.5 C25 38.5 28 39.5 29 42.5"/>
    <path d="M20.5 50 C28 51.5 36 52.5 43 55.5"/>
    <path d="M40 60 C37.5 64 35 69 34.5 73"/>
    <path d="M22 59 C23.5 62.5 26 64.5 29.5 65.5"/><path d="M18.5 44 C24 46.5 31 47 36.5 45"/><path d="M37 60.5 C41 62.5 44.5 66 45 71"/>
  </g>
  <ellipse cx="45.2" cy="19.2" rx="2.2" ry="1.5" fill="none"/><ellipse cx="43.8" cy="14.3" rx="1.2" ry="0.6" fill="none"/>
</g><g transform="translate(25.0,439.0) scale(1.9)" opacity="0.06"><g fill="#6a8ad8"><path d="M0 0 H35.2 V8.2 L28.5 17.2 L20.1 22.8 L15.2 21.6 L25.6 8.2 H0 Z"/></g>
<g fill="none" stroke="#6a8ad8" stroke-width="8.9">
<path d="M21.26 18.4 A13.35 13.35 0 1 1 5.55 26"/>
<circle cx="45.1" cy="31.4" r="12.75" stroke-width="8.3"/>
</g>
</g><g transform="translate(180.7,428.5) scale(1.33)" opacity="0.042">
  <g fill="#6a8ad8">
    <path d="M31.7 15 C32 12.5 34.5 11 37.7 11.5 C40 10.5 46 10.3 49 11.5 C51 12.8 51.5 15.5 51 18 C51.3 20 50.5 22 49.5 23 C48 24.5 45 24.8 42 24.5 C39.5 24.5 37.5 23.5 36 22 C34 20.5 32 17.5 31.7 15 Z"/>
    <path d="M16 31 C23 33.5 31 32 36 25.5 L43 25 C43.5 29 44.5 33 45.5 36 C42 40.5 36 44.5 30 47.5 C25 49 19.5 47 16.5 42 Z"/>
    <path d="M26 78.8 C28 75.5 31 73.5 36 73.2 C39 73 41.5 74 41.5 75.5 C41 77.5 38 78.5 33 79.3 C30 79.8 27 79.8 26 78.8 Z"/>
  </g>
  <g fill="none" stroke="#6a8ad8" stroke-linecap="round" stroke-linejoin="round">
    <path d="M33.5 19 C30 22.5 26 27 22 30" stroke-width="2.2"/>
    <path d="M22 30 C17 32 11.5 30 11.5 25.5 C11.5 22.5 14 21 16.5 21.5 C18.5 22 19.5 23.5 18.5 25" stroke-width="3.4"/>
    <path d="M15 31 C15 38 16.5 44 19 48.5 C22 54 32 55 40 56.5 C47 58 49.5 63 49 68 C48.7 71 47.5 73 47 75" stroke-width="6.2"/>
    <path d="M47 75 C46.5 78 47.5 82 50.5 82.8 C52.5 83.2 53.5 81.5 53 80 C52.5 78.8 51.5 78.5 50.8 79" stroke-width="3"/>
    <path d="M43.5 33 C45.5 30 47.5 28 49.5 28.3 C51 28.8 51 31 49.3 33 C47.8 34.5 46 35 44.5 35" stroke-width="3.4"/>
    <path d="M40 40.5 C44.5 39.5 48.5 40 50.8 41.5" stroke-width="3.6"/>
    <path d="M18 55 C17.5 61.5 21.5 67.5 30 70" stroke-width="4.6"/>
    <path d="M33 58 C35 63 37 68 37.5 74" stroke-width="5"/>
  </g>
  <g fill="none" stroke="none" stroke-width="0.9" stroke-linecap="round">
    <path d="M39.5 17.5 C38.2 19 38.5 21 40 22"/><path d="M33.5 15.8 C34 14.2 36 13.8 36.6 15.2"/>
    <path d="M16.5 33.5 C23 36 30 37 35 41"/>
    <path d="M22 38.5 C25 38.5 28 39.5 29 42.5"/>
    <path d="M20.5 50 C28 51.5 36 52.5 43 55.5"/>
    <path d="M40 60 C37.5 64 35 69 34.5 73"/>
    <path d="M22 59 C23.5 62.5 26 64.5 29.5 65.5"/><path d="M18.5 44 C24 46.5 31 47 36.5 45"/><path d="M37 60.5 C41 62.5 44.5 66 45 71"/>
  </g>
  <ellipse cx="45.2" cy="19.2" rx="2.2" ry="1.5" fill="none"/><ellipse cx="43.8" cy="14.3" rx="1.2" ry="0.6" fill="none"/>
</g><g transform="translate(317.0,439.0) scale(1.9)" opacity="0.06"><g fill="#6a8ad8"><path d="M0 0 H35.2 V8.2 L28.5 17.2 L20.1 22.8 L15.2 21.6 L25.6 8.2 H0 Z"/></g>
<g fill="none" stroke="#6a8ad8" stroke-width="8.9">
<path d="M21.26 18.4 A13.35 13.35 0 1 1 5.55 26"/>
<circle cx="45.1" cy="31.4" r="12.75" stroke-width="8.3"/>
</g>
</g><g transform="translate(472.7,428.5) scale(1.33)" opacity="0.042">
  <g fill="#6a8ad8">
    <path d="M31.7 15 C32 12.5 34.5 11 37.7 11.5 C40 10.5 46 10.3 49 11.5 C51 12.8 51.5 15.5 51 18 C51.3 20 50.5 22 49.5 23 C48 24.5 45 24.8 42 24.5 C39.5 24.5 37.5 23.5 36 22 C34 20.5 32 17.5 31.7 15 Z"/>
    <path d="M16 31 C23 33.5 31 32 36 25.5 L43 25 C43.5 29 44.5 33 45.5 36 C42 40.5 36 44.5 30 47.5 C25 49 19.5 47 16.5 42 Z"/>
    <path d="M26 78.8 C28 75.5 31 73.5 36 73.2 C39 73 41.5 74 41.5 75.5 C41 77.5 38 78.5 33 79.3 C30 79.8 27 79.8 26 78.8 Z"/>
  </g>
  <g fill="none" stroke="#6a8ad8" stroke-linecap="round" stroke-linejoin="round">
    <path d="M33.5 19 C30 22.5 26 27 22 30" stroke-width="2.2"/>
    <path d="M22 30 C17 32 11.5 30 11.5 25.5 C11.5 22.5 14 21 16.5 21.5 C18.5 22 19.5 23.5 18.5 25" stroke-width="3.4"/>
    <path d="M15 31 C15 38 16.5 44 19 48.5 C22 54 32 55 40 56.5 C47 58 49.5 63 49 68 C48.7 71 47.5 73 47 75" stroke-width="6.2"/>
    <path d="M47 75 C46.5 78 47.5 82 50.5 82.8 C52.5 83.2 53.5 81.5 53 80 C52.5 78.8 51.5 78.5 50.8 79" stroke-width="3"/>
    <path d="M43.5 33 C45.5 30 47.5 28 49.5 28.3 C51 28.8 51 31 49.3 33 C47.8 34.5 46 35 44.5 35" stroke-width="3.4"/>
    <path d="M40 40.5 C44.5 39.5 48.5 40 50.8 41.5" stroke-width="3.6"/>
    <path d="M18 55 C17.5 61.5 21.5 67.5 30 70" stroke-width="4.6"/>
    <path d="M33 58 C35 63 37 68 37.5 74" stroke-width="5"/>
  </g>
  <g fill="none" stroke="none" stroke-width="0.9" stroke-linecap="round">
    <path d="M39.5 17.5 C38.2 19 38.5 21 40 22"/><path d="M33.5 15.8 C34 14.2 36 13.8 36.6 15.2"/>
    <path d="M16.5 33.5 C23 36 30 37 35 41"/>
    <path d="M22 38.5 C25 38.5 28 39.5 29 42.5"/>
    <path d="M20.5 50 C28 51.5 36 52.5 43 55.5"/>
    <path d="M40 60 C37.5 64 35 69 34.5 73"/>
    <path d="M22 59 C23.5 62.5 26 64.5 29.5 65.5"/><path d="M18.5 44 C24 46.5 31 47 36.5 45"/><path d="M37 60.5 C41 62.5 44.5 66 45 71"/>
  </g>
  <ellipse cx="45.2" cy="19.2" rx="2.2" ry="1.5" fill="none"/><ellipse cx="43.8" cy="14.3" rx="1.2" ry="0.6" fill="none"/>
</g><g transform="translate(609.0,439.0) scale(1.9)" opacity="0.06"><g fill="#6a8ad8"><path d="M0 0 H35.2 V8.2 L28.5 17.2 L20.1 22.8 L15.2 21.6 L25.6 8.2 H0 Z"/></g>
<g fill="none" stroke="#6a8ad8" stroke-width="8.9">
<path d="M21.26 18.4 A13.35 13.35 0 1 1 5.55 26"/>
<circle cx="45.1" cy="31.4" r="12.75" stroke-width="8.3"/>
</g>
</g><g transform="translate(764.7,428.5) scale(1.33)" opacity="0.042">
  <g fill="#6a8ad8">
    <path d="M31.7 15 C32 12.5 34.5 11 37.7 11.5 C40 10.5 46 10.3 49 11.5 C51 12.8 51.5 15.5 51 18 C51.3 20 50.5 22 49.5 23 C48 24.5 45 24.8 42 24.5 C39.5 24.5 37.5 23.5 36 22 C34 20.5 32 17.5 31.7 15 Z"/>
    <path d="M16 31 C23 33.5 31 32 36 25.5 L43 25 C43.5 29 44.5 33 45.5 36 C42 40.5 36 44.5 30 47.5 C25 49 19.5 47 16.5 42 Z"/>
    <path d="M26 78.8 C28 75.5 31 73.5 36 73.2 C39 73 41.5 74 41.5 75.5 C41 77.5 38 78.5 33 79.3 C30 79.8 27 79.8 26 78.8 Z"/>
  </g>
  <g fill="none" stroke="#6a8ad8" stroke-linecap="round" stroke-linejoin="round">
    <path d="M33.5 19 C30 22.5 26 27 22 30" stroke-width="2.2"/>
    <path d="M22 30 C17 32 11.5 30 11.5 25.5 C11.5 22.5 14 21 16.5 21.5 C18.5 22 19.5 23.5 18.5 25" stroke-width="3.4"/>
    <path d="M15 31 C15 38 16.5 44 19 48.5 C22 54 32 55 40 56.5 C47 58 49.5 63 49 68 C48.7 71 47.5 73 47 75" stroke-width="6.2"/>
    <path d="M47 75 C46.5 78 47.5 82 50.5 82.8 C52.5 83.2 53.5 81.5 53 80 C52.5 78.8 51.5 78.5 50.8 79" stroke-width="3"/>
    <path d="M43.5 33 C45.5 30 47.5 28 49.5 28.3 C51 28.8 51 31 49.3 33 C47.8 34.5 46 35 44.5 35" stroke-width="3.4"/>
    <path d="M40 40.5 C44.5 39.5 48.5 40 50.8 41.5" stroke-width="3.6"/>
    <path d="M18 55 C17.5 61.5 21.5 67.5 30 70" stroke-width="4.6"/>
    <path d="M33 58 C35 63 37 68 37.5 74" stroke-width="5"/>
  </g>
  <g fill="none" stroke="none" stroke-width="0.9" stroke-linecap="round">
    <path d="M39.5 17.5 C38.2 19 38.5 21 40 22"/><path d="M33.5 15.8 C34 14.2 36 13.8 36.6 15.2"/>
    <path d="M16.5 33.5 C23 36 30 37 35 41"/>
    <path d="M22 38.5 C25 38.5 28 39.5 29 42.5"/>
    <path d="M20.5 50 C28 51.5 36 52.5 43 55.5"/>
    <path d="M40 60 C37.5 64 35 69 34.5 73"/>
    <path d="M22 59 C23.5 62.5 26 64.5 29.5 65.5"/><path d="M18.5 44 C24 46.5 31 47 36.5 45"/><path d="M37 60.5 C41 62.5 44.5 66 45 71"/>
  </g>
  <ellipse cx="45.2" cy="19.2" rx="2.2" ry="1.5" fill="none"/><ellipse cx="43.8" cy="14.3" rx="1.2" ry="0.6" fill="none"/>
</g><g transform="translate(901.0,439.0) scale(1.9)" opacity="0.06"><g fill="#6a8ad8"><path d="M0 0 H35.2 V8.2 L28.5 17.2 L20.1 22.8 L15.2 21.6 L25.6 8.2 H0 Z"/></g>
<g fill="none" stroke="#6a8ad8" stroke-width="8.9">
<path d="M21.26 18.4 A13.35 13.35 0 1 1 5.55 26"/>
<circle cx="45.1" cy="31.4" r="12.75" stroke-width="8.3"/>
</g>
</g><g transform="translate(1056.7,428.5) scale(1.33)" opacity="0.042">
  <g fill="#6a8ad8">
    <path d="M31.7 15 C32 12.5 34.5 11 37.7 11.5 C40 10.5 46 10.3 49 11.5 C51 12.8 51.5 15.5 51 18 C51.3 20 50.5 22 49.5 23 C48 24.5 45 24.8 42 24.5 C39.5 24.5 37.5 23.5 36 22 C34 20.5 32 17.5 31.7 15 Z"/>
    <path d="M16 31 C23 33.5 31 32 36 25.5 L43 25 C43.5 29 44.5 33 45.5 36 C42 40.5 36 44.5 30 47.5 C25 49 19.5 47 16.5 42 Z"/>
    <path d="M26 78.8 C28 75.5 31 73.5 36 73.2 C39 73 41.5 74 41.5 75.5 C41 77.5 38 78.5 33 79.3 C30 79.8 27 79.8 26 78.8 Z"/>
  </g>
  <g fill="none" stroke="#6a8ad8" stroke-linecap="round" stroke-linejoin="round">
    <path d="M33.5 19 C30 22.5 26 27 22 30" stroke-width="2.2"/>
    <path d="M22 30 C17 32 11.5 30 11.5 25.5 C11.5 22.5 14 21 16.5 21.5 C18.5 22 19.5 23.5 18.5 25" stroke-width="3.4"/>
    <path d="M15 31 C15 38 16.5 44 19 48.5 C22 54 32 55 40 56.5 C47 58 49.5 63 49 68 C48.7 71 47.5 73 47 75" stroke-width="6.2"/>
    <path d="M47 75 C46.5 78 47.5 82 50.5 82.8 C52.5 83.2 53.5 81.5 53 80 C52.5 78.8 51.5 78.5 50.8 79" stroke-width="3"/>
    <path d="M43.5 33 C45.5 30 47.5 28 49.5 28.3 C51 28.8 51 31 49.3 33 C47.8 34.5 46 35 44.5 35" stroke-width="3.4"/>
    <path d="M40 40.5 C44.5 39.5 48.5 40 50.8 41.5" stroke-width="3.6"/>
    <path d="M18 55 C17.5 61.5 21.5 67.5 30 70" stroke-width="4.6"/>
    <path d="M33 58 C35 63 37 68 37.5 74" stroke-width="5"/>
  </g>
  <g fill="none" stroke="none" stroke-width="0.9" stroke-linecap="round">
    <path d="M39.5 17.5 C38.2 19 38.5 21 40 22"/><path d="M33.5 15.8 C34 14.2 36 13.8 36.6 15.2"/>
    <path d="M16.5 33.5 C23 36 30 37 35 41"/>
    <path d="M22 38.5 C25 38.5 28 39.5 29 42.5"/>
    <path d="M20.5 50 C28 51.5 36 52.5 43 55.5"/>
    <path d="M40 60 C37.5 64 35 69 34.5 73"/>
    <path d="M22 59 C23.5 62.5 26 64.5 29.5 65.5"/><path d="M18.5 44 C24 46.5 31 47 36.5 45"/><path d="M37 60.5 C41 62.5 44.5 66 45 71"/>
  </g>
  <ellipse cx="45.2" cy="19.2" rx="2.2" ry="1.5" fill="none"/><ellipse cx="43.8" cy="14.3" rx="1.2" ry="0.6" fill="none"/>
</g><g transform="translate(1193.0,439.0) scale(1.9)" opacity="0.06"><g fill="#6a8ad8"><path d="M0 0 H35.2 V8.2 L28.5 17.2 L20.1 22.8 L15.2 21.6 L25.6 8.2 H0 Z"/></g>
<g fill="none" stroke="#6a8ad8" stroke-width="8.9">
<path d="M21.26 18.4 A13.35 13.35 0 1 1 5.55 26"/>
<circle cx="45.1" cy="31.4" r="12.75" stroke-width="8.3"/>
</g>
</g><g transform="translate(1348.7,428.5) scale(1.33)" opacity="0.042">
  <g fill="#6a8ad8">
    <path d="M31.7 15 C32 12.5 34.5 11 37.7 11.5 C40 10.5 46 10.3 49 11.5 C51 12.8 51.5 15.5 51 18 C51.3 20 50.5 22 49.5 23 C48 24.5 45 24.8 42 24.5 C39.5 24.5 37.5 23.5 36 22 C34 20.5 32 17.5 31.7 15 Z"/>
    <path d="M16 31 C23 33.5 31 32 36 25.5 L43 25 C43.5 29 44.5 33 45.5 36 C42 40.5 36 44.5 30 47.5 C25 49 19.5 47 16.5 42 Z"/>
    <path d="M26 78.8 C28 75.5 31 73.5 36 73.2 C39 73 41.5 74 41.5 75.5 C41 77.5 38 78.5 33 79.3 C30 79.8 27 79.8 26 78.8 Z"/>
  </g>
  <g fill="none" stroke="#6a8ad8" stroke-linecap="round" stroke-linejoin="round">
    <path d="M33.5 19 C30 22.5 26 27 22 30" stroke-width="2.2"/>
    <path d="M22 30 C17 32 11.5 30 11.5 25.5 C11.5 22.5 14 21 16.5 21.5 C18.5 22 19.5 23.5 18.5 25" stroke-width="3.4"/>
    <path d="M15 31 C15 38 16.5 44 19 48.5 C22 54 32 55 40 56.5 C47 58 49.5 63 49 68 C48.7 71 47.5 73 47 75" stroke-width="6.2"/>
    <path d="M47 75 C46.5 78 47.5 82 50.5 82.8 C52.5 83.2 53.5 81.5 53 80 C52.5 78.8 51.5 78.5 50.8 79" stroke-width="3"/>
    <path d="M43.5 33 C45.5 30 47.5 28 49.5 28.3 C51 28.8 51 31 49.3 33 C47.8 34.5 46 35 44.5 35" stroke-width="3.4"/>
    <path d="M40 40.5 C44.5 39.5 48.5 40 50.8 41.5" stroke-width="3.6"/>
    <path d="M18 55 C17.5 61.5 21.5 67.5 30 70" stroke-width="4.6"/>
    <path d="M33 58 C35 63 37 68 37.5 74" stroke-width="5"/>
  </g>
  <g fill="none" stroke="none" stroke-width="0.9" stroke-linecap="round">
    <path d="M39.5 17.5 C38.2 19 38.5 21 40 22"/><path d="M33.5 15.8 C34 14.2 36 13.8 36.6 15.2"/>
    <path d="M16.5 33.5 C23 36 30 37 35 41"/>
    <path d="M22 38.5 C25 38.5 28 39.5 29 42.5"/>
    <path d="M20.5 50 C28 51.5 36 52.5 43 55.5"/>
    <path d="M40 60 C37.5 64 35 69 34.5 73"/>
    <path d="M22 59 C23.5 62.5 26 64.5 29.5 65.5"/><path d="M18.5 44 C24 46.5 31 47 36.5 45"/><path d="M37 60.5 C41 62.5 44.5 66 45 71"/>
  </g>
  <ellipse cx="45.2" cy="19.2" rx="2.2" ry="1.5" fill="none"/><ellipse cx="43.8" cy="14.3" rx="1.2" ry="0.6" fill="none"/>
</g></svg>

<div id="pill"></div>
<div id="title" class="abs">г.Шымкент</div>

<div class="vline" style="left:72.5px;top:4px;height:92px;"></div>
<div class="vline" style="left:1096.5px;top:2px;height:93px;"></div>

<!-- left logo leopard -->
<svg class="abs" style="left:0;top:0" width="70" height="95" viewBox="0 0 70 95">
<g id="leo">
  <g fill="#f2f3f8">
    <path d="M31.7 15 C32 12.5 34.5 11 37.7 11.5 C40 10.5 46 10.3 49 11.5 C51 12.8 51.5 15.5 51 18 C51.3 20 50.5 22 49.5 23 C48 24.5 45 24.8 42 24.5 C39.5 24.5 37.5 23.5 36 22 C34 20.5 32 17.5 31.7 15 Z"/>
    <path d="M16 31 C23 33.5 31 32 36 25.5 L43 25 C43.5 29 44.5 33 45.5 36 C42 40.5 36 44.5 30 47.5 C25 49 19.5 47 16.5 42 Z"/>
    <path d="M26 78.8 C28 75.5 31 73.5 36 73.2 C39 73 41.5 74 41.5 75.5 C41 77.5 38 78.5 33 79.3 C30 79.8 27 79.8 26 78.8 Z"/>
  </g>
  <g fill="none" stroke="#f2f3f8" stroke-linecap="round" stroke-linejoin="round">
    <path d="M33.5 19 C30 22.5 26 27 22 30" stroke-width="2.2"/>
    <path d="M22 30 C17 32 11.5 30 11.5 25.5 C11.5 22.5 14 21 16.5 21.5 C18.5 22 19.5 23.5 18.5 25" stroke-width="3.4"/>
    <path d="M15 31 C15 38 16.5 44 19 48.5 C22 54 32 55 40 56.5 C47 58 49.5 63 49 68 C48.7 71 47.5 73 47 75" stroke-width="6.2"/>
    <path d="M47 75 C46.5 78 47.5 82 50.5 82.8 C52.5 83.2 53.5 81.5 53 80 C52.5 78.8 51.5 78.5 50.8 79" stroke-width="3"/>
    <path d="M43.5 33 C45.5 30 47.5 28 49.5 28.3 C51 28.8 51 31 49.3 33 C47.8 34.5 46 35 44.5 35" stroke-width="3.4"/>
    <path d="M40 40.5 C44.5 39.5 48.5 40 50.8 41.5" stroke-width="3.6"/>
    <path d="M18 55 C17.5 61.5 21.5 67.5 30 70" stroke-width="4.6"/>
    <path d="M33 58 C35 63 37 68 37.5 74" stroke-width="5"/>
  </g>
  <g fill="none" stroke="#1b2d70" stroke-width="0.9" stroke-linecap="round">
    <path d="M39.5 17.5 C38.2 19 38.5 21 40 22"/><path d="M33.5 15.8 C34 14.2 36 13.8 36.6 15.2"/>
    <path d="M16.5 33.5 C23 36 30 37 35 41"/>
    <path d="M22 38.5 C25 38.5 28 39.5 29 42.5"/>
    <path d="M20.5 50 C28 51.5 36 52.5 43 55.5"/>
    <path d="M40 60 C37.5 64 35 69 34.5 73"/>
    <path d="M22 59 C23.5 62.5 26 64.5 29.5 65.5"/><path d="M18.5 44 C24 46.5 31 47 36.5 45"/><path d="M37 60.5 C41 62.5 44.5 66 45 71"/>
  </g>
  <ellipse cx="45.2" cy="19.2" rx="2.2" ry="1.5" fill="#1b2d70"/><ellipse cx="43.8" cy="14.3" rx="1.2" ry="0.6" fill="#1b2d70"/>
</g>

</svg>

<!-- right logo -->
<div class="abs" style="left:1115px;top:12px;width:66px;text-align:center;font-family:'Liberation Sans',sans-serif;font-weight:bold;font-size:12px;line-height:12px;color:#f2f3f8;transform:scaleX(0.85);transform-origin:50% 0;">ҚАЗАҚСТАН</div>
<div class="abs" style="left:1111.5px;top:24.8px;width:78px;text-align:center;font-family:'Liberation Sans',sans-serif;font-size:9px;line-height:9px;color:#d8dcef;transform:scaleX(0.86);transform-origin:50% 0;">ТӘУЕЛСІЗДІГІНЕ</div>
<div class="abs" style="left:1159px;top:36px;width:26px;text-align:center;font-family:'Liberation Sans',sans-serif;font-weight:bold;font-size:12.5px;line-height:12.5px;color:#f2f3f8;transform:scaleX(0.64);transform-origin:50% 0;">ЖЫЛ</div>
<svg class="abs" style="left:0;top:0" width="1200" height="100" viewBox="0 0 1200 100">
  <g transform="translate(1119.6,37.7)"><g fill="#f6f7fb"><path d="M0 0 H35.2 V8.2 L28.5 17.2 L20.1 22.8 L15.2 21.6 L25.6 8.2 H0 Z"/></g>
<g fill="none" stroke="#f6f7fb" stroke-width="8.9">
<path d="M21.26 18.4 A13.35 13.35 0 1 1 5.55 26"/>
<circle cx="45.1" cy="31.4" r="12.75" stroke-width="8.3"/>
</g>
</g>
</svg>

<div id="left1" class="abs w">За 2023 год<br>объем выбросов</div>
<div id="left2" class="abs red"><div style="transform:scaleY(1.035);transform-origin:50% 42px;">34,1</div><div>тыс.тонн</div></div>

<div id="list" class="abs">
  <div><b>23 мероприятий</b> по Дорожной карте:</div>
  <div class="li">97% – газификация частного сектора до конца</div>
  <div class="n">2024 г.;</div>
  <div class="li">15% – снижение выбросов ТОО «ПКОП»;</div>
  <div class="li">90% – система газоочистки на ТОО <span style="letter-spacing:-0.6px">«Shymkent</span></div>
  <div class="n" style="letter-spacing:-0.55px">Temir».</div>
</div>

<!-- pie -->
<svg class="abs" style="left:0;top:0" width="1200" height="675" viewBox="0 0 1200 675">
  <defs><filter id="psh" x="-20%" y="-20%" width="140%" height="140%"><feGaussianBlur stdDeviation="2.2"/></filter></defs>
  <circle cx="917.85" cy="318.5" r="157.5" fill="rgba(8,12,40,0.55)" filter="url(#psh)"/>
  <circle cx="917.85" cy="318.5" r="155.5" fill="#ed7d31"/>
  <path d="M917.85 318.5 L917.85 163 A155.5 155.5 0 0 1 946.99 165.75 Z" fill="#5b9bd5"/>
  <path d="M917.85 318.5 L917.85 163 M917.85 318.5 L946.99 165.75" stroke="rgba(120,70,40,0.45)" stroke-width="0.8" fill="none"/>
</svg>
<div class="lab" style="left:855px;top:107.9px;width:160px;font-size:19.5px;letter-spacing:0.8px;">3%</div>
<div class="lab" style="left:851.4px;top:130px;width:160px;">теплоэнергетика</div>
<div class="lab" style="left:839.25px;top:344.7px;width:160px;font-size:19px;letter-spacing:0.3px;">97%</div><div class="lab" style="left:839.7px;top:367.6px;width:160px;">промышленность</div>

<div id="footline"></div>
<svg class="abs" style="left:0;top:0" width="1200" height="675" viewBox="0 0 1200 675" font-family="Liberation Sans, sans-serif"><text x="-95.3" y="627.8" text-anchor="middle" textLength="81.3" lengthAdjust="spacingAndGlyphs" font-weight="bold" fill="#eceff9" stroke="#eceff9" stroke-width="0.22" font-size="5.6">СЛУЖБА ЦЕНТРАЛЬНЫХ КОММУНИКАЦИЙ</text><text x="-96.3" y="633.3" text-anchor="middle" textLength="67.3" lengthAdjust="spacingAndGlyphs" font-weight="normal" fill="#d9ddf2" stroke="#d9ddf2" stroke-width="0.18" font-size="5.6">ПРИ ПРЕЗИДЕНТЕ РЕСПУБЛИКИ КАЗАХСТАН</text><text x="-95.3" y="663.6" text-anchor="middle" textLength="86.7" lengthAdjust="spacingAndGlyphs" font-weight="normal" fill="#d9ddf2" stroke="#d9ddf2" stroke-width="0.18" font-size="5.6">ҚАЗАҚСТАН РЕСПУБЛИКАСЫ ПРЕЗИДЕНТІ ЖАНЫНДАҒЫ</text><text x="-95.0" y="669.6" text-anchor="middle" textLength="79.3" lengthAdjust="spacingAndGlyphs" font-weight="bold" fill="#eceff9" stroke="#eceff9" stroke-width="0.22" font-size="5.6">ОРТАЛЫҚ КОММУНИКАЦИЯЛАР ҚЫЗМЕТІ</text><text x="-95.3" y="650.3" text-anchor="middle" textLength="21.3" lengthAdjust="spacingAndGlyphs" font-weight="bold" fill="#eceff9" stroke="#eceff9" stroke-width="0.22" font-size="5.8">ORTCOM.KZ</text><text x="-17.9" y="630.9" text-anchor="middle" textLength="21.3" lengthAdjust="spacingAndGlyphs" font-weight="bold" fill="#eceff9" stroke="#eceff9" stroke-width="0.22" font-size="5.8">ORTCOM.KZ</text><text x="-17.2" y="665.8" text-anchor="middle" textLength="21.3" lengthAdjust="spacingAndGlyphs" font-weight="bold" fill="#eceff9" stroke="#eceff9" stroke-width="0.22" font-size="5.8">ORTCOM.KZ</text><text x="57.8" y="627.8" text-anchor="middle" textLength="86.7" lengthAdjust="spacingAndGlyphs" font-weight="normal" fill="#d9ddf2" stroke="#d9ddf2" stroke-width="0.18" font-size="5.6">ҚАЗАҚСТАН РЕСПУБЛИКАСЫ ПРЕЗИДЕНТІ ЖАНЫНДАҒЫ</text><text x="58.1" y="633.8" text-anchor="middle" textLength="79.3" lengthAdjust="spacingAndGlyphs" font-weight="bold" fill="#eceff9" stroke="#eceff9" stroke-width="0.22" font-size="5.6">ОРТАЛЫҚ КОММУНИКАЦИЯЛАР ҚЫЗМЕТІ</text><text x="57.8" y="663.6" text-anchor="middle" textLength="81.3" lengthAdjust="spacingAndGlyphs" font-weight="bold" fill="#eceff9" stroke="#eceff9" stroke-width="0.22" font-size="5.6">СЛУЖБА ЦЕНТРАЛЬНЫХ КОММУНИКАЦИЙ</text><text x="56.8" y="669.1" text-anchor="middle" textLength="67.3" lengthAdjust="spacingAndGlyphs" font-weight="normal" fill="#d9ddf2" stroke="#d9ddf2" stroke-width="0.18" font-size="5.6">ПРИ ПРЕЗИДЕНТЕ РЕСПУБЛИКИ КАЗАХСТАН</text><text x="57.8" y="650.3" text-anchor="middle" textLength="21.3" lengthAdjust="spacingAndGlyphs" font-weight="bold" fill="#eceff9" stroke="#eceff9" stroke-width="0.22" font-size="5.8">ORTCOM.KZ</text><text x="134.7" y="630.9" text-anchor="middle" textLength="21.3" lengthAdjust="spacingAndGlyphs" font-weight="bold" fill="#eceff9" stroke="#eceff9" stroke-width="0.22" font-size="5.8">ORTCOM.KZ</text><text x="135.3" y="665.8" text-anchor="middle" textLength="21.3" lengthAdjust="spacingAndGlyphs" font-weight="bold" fill="#eceff9" stroke="#eceff9" stroke-width="0.22" font-size="5.8">ORTCOM.KZ</text><text x="132.8" y="645.6" text-anchor="middle" textLength="70" lengthAdjust="spacingAndGlyphs" font-weight="bold" fill="#eceff9" stroke="#eceff9" stroke-width="0.22" font-size="5.6">CENTRAL COMMUNICATIONS SERVICE</text><text x="132.1" y="651.6" text-anchor="middle" textLength="46.7" lengthAdjust="spacingAndGlyphs" font-weight="normal" fill="#d9ddf2" stroke="#d9ddf2" stroke-width="0.18" font-size="5.6">UNDER THE PRESIDENT OF THE</text><text x="133.1" y="657.6" text-anchor="middle" textLength="40.7" lengthAdjust="spacingAndGlyphs" font-weight="normal" fill="#d9ddf2" stroke="#d9ddf2" stroke-width="0.18" font-size="5.6">REPUBLIC OF KAZAKHSTAN</text><text x="210.9" y="627.8" text-anchor="middle" textLength="81.3" lengthAdjust="spacingAndGlyphs" font-weight="bold" fill="#eceff9" stroke="#eceff9" stroke-width="0.22" font-size="5.6">СЛУЖБА ЦЕНТРАЛЬНЫХ КОММУНИКАЦИЙ</text><text x="209.9" y="633.3" text-anchor="middle" textLength="67.3" lengthAdjust="spacingAndGlyphs" font-weight="normal" fill="#d9ddf2" stroke="#d9ddf2" stroke-width="0.18" font-size="5.6">ПРИ ПРЕЗИДЕНТЕ РЕСПУБЛИКИ КАЗАХСТАН</text><text x="210.9" y="663.6" text-anchor="middle" textLength="86.7" lengthAdjust="spacingAndGlyphs" font-weight="normal" fill="#d9ddf2" stroke="#d9ddf2" stroke-width="0.18" font-size="5.6">ҚАЗАҚСТАН РЕСПУБЛИКАСЫ ПРЕЗИДЕНТІ ЖАНЫНДАҒЫ</text><text x="211.2" y="669.6" text-anchor="middle" textLength="79.3" lengthAdjust="spacingAndGlyphs" font-weight="bold" fill="#eceff9" stroke="#eceff9" stroke-width="0.22" font-size="5.6">ОРТАЛЫҚ КОММУНИКАЦИЯЛАР ҚЫЗМЕТІ</text><text x="210.9" y="650.3" text-anchor="middle" textLength="21.3" lengthAdjust="spacingAndGlyphs" font-weight="bold" fill="#eceff9" stroke="#eceff9" stroke-width="0.22" font-size="5.8">ORTCOM.KZ</text><text x="287.2" y="630.9" text-anchor="middle" textLength="21.3" lengthAdjust="spacingAndGlyphs" font-weight="bold" fill="#eceff9" stroke="#eceff9" stroke-width="0.22" font-size="5.8">ORTCOM.KZ</text><text x="287.9" y="665.8" text-anchor="middle" textLength="21.3" lengthAdjust="spacingAndGlyphs" font-weight="bold" fill="#eceff9" stroke="#eceff9" stroke-width="0.22" font-size="5.8">ORTCOM.KZ</text><text x="285.9" y="645.6" text-anchor="middle" textLength="70" lengthAdjust="spacingAndGlyphs" font-weight="bold" fill="#eceff9" stroke="#eceff9" stroke-width="0.22" font-size="5.6">CENTRAL COMMUNICATIONS SERVICE</text><text x="285.2" y="651.6" text-anchor="middle" textLength="46.7" lengthAdjust="spacingAndGlyphs" font-weight="normal" fill="#d9ddf2" stroke="#d9ddf2" stroke-width="0.18" font-size="5.6">UNDER THE PRESIDENT OF THE</text><text x="286.2" y="657.6" text-anchor="middle" textLength="40.7" lengthAdjust="spacingAndGlyphs" font-weight="normal" fill="#d9ddf2" stroke="#d9ddf2" stroke-width="0.18" font-size="5.6">REPUBLIC OF KAZAKHSTAN</text><text x="364.0" y="627.8" text-anchor="middle" textLength="86.7" lengthAdjust="spacingAndGlyphs" font-weight="normal" fill="#d9ddf2" stroke="#d9ddf2" stroke-width="0.18" font-size="5.6">ҚАЗАҚСТАН РЕСПУБЛИКАСЫ ПРЕЗИДЕНТІ ЖАНЫНДАҒЫ</text><text x="364.3" y="633.8" text-anchor="middle" textLength="79.3" lengthAdjust="spacingAndGlyphs" font-weight="bold" fill="#eceff9" stroke="#eceff9" stroke-width="0.22" font-size="5.6">ОРТАЛЫҚ КОММУНИКАЦИЯЛАР ҚЫЗМЕТІ</text><text x="364.0" y="663.6" text-anchor="middle" textLength="81.3" lengthAdjust="spacingAndGlyphs" font-weight="bold" fill="#eceff9" stroke="#eceff9" stroke-width="0.22" font-size="5.6">СЛУЖБА ЦЕНТРАЛЬНЫХ КОММУНИКАЦИЙ</text><text x="363.0" y="669.1" text-anchor="middle" textLength="67.3" lengthAdjust="spacingAndGlyphs" font-weight="normal" fill="#d9ddf2" stroke="#d9ddf2" stroke-width="0.18" font-size="5.6">ПРИ ПРЕЗИДЕНТЕ РЕСПУБЛИКИ КАЗАХСТАН</text><text x="364.0" y="650.3" text-anchor="middle" textLength="21.3" lengthAdjust="spacingAndGlyphs" font-weight="bold" fill="#eceff9" stroke="#eceff9" stroke-width="0.22" font-size="5.8">ORTCOM.KZ</text><text x="439.9" y="630.9" text-anchor="middle" textLength="21.3" lengthAdjust="spacingAndGlyphs" font-weight="bold" fill="#eceff9" stroke="#eceff9" stroke-width="0.22" font-size="5.8">ORTCOM.KZ</text><text x="440.5" y="665.8" text-anchor="middle" textLength="21.3" lengthAdjust="spacingAndGlyphs" font-weight="bold" fill="#eceff9" stroke="#eceff9" stroke-width="0.22" font-size="5.8">ORTCOM.KZ</text><text x="439.0" y="645.6" text-anchor="middle" textLength="70" lengthAdjust="spacingAndGlyphs" font-weight="bold" fill="#eceff9" stroke="#eceff9" stroke-width="0.22" font-size="5.6">CENTRAL COMMUNICATIONS SERVICE</text><text x="438.3" y="651.6" text-anchor="middle" textLength="46.7" lengthAdjust="spacingAndGlyphs" font-weight="normal" fill="#d9ddf2" stroke="#d9ddf2" stroke-width="0.18" font-size="5.6">UNDER THE PRESIDENT OF THE</text><text x="439.3" y="657.6" text-anchor="middle" textLength="40.7" lengthAdjust="spacingAndGlyphs" font-weight="normal" fill="#d9ddf2" stroke="#d9ddf2" stroke-width="0.18" font-size="5.6">REPUBLIC OF KAZAKHSTAN</text><text x="517.1" y="627.8" text-anchor="middle" textLength="81.3" lengthAdjust="spacingAndGlyphs" font-weight="bold" fill="#eceff9" stroke="#eceff9" stroke-width="0.22" font-size="5.6">СЛУЖБА ЦЕНТРАЛЬНЫХ КОММУНИКАЦИЙ</text><text x="516.1" y="633.3" text-anchor="middle" textLength="67.3" lengthAdjust="spacingAndGlyphs" font-weight="normal" fill="#d9ddf2" stroke="#d9ddf2" stroke-width="0.18" font-size="5.6">ПРИ ПРЕЗИДЕНТЕ РЕСПУБЛИКИ КАЗАХСТАН</text><text x="517.1" y="663.6" text-anchor="middle" textLength="86.7" lengthAdjust="spacingAndGlyphs" font-weight="normal" fill="#d9ddf2" stroke="#d9ddf2" stroke-width="0.18" font-size="5.6">ҚАЗАҚСТАН РЕСПУБЛИКАСЫ ПРЕЗИДЕНТІ ЖАНЫНДАҒЫ</text><text x="517.4" y="669.6" text-anchor="middle" textLength="79.3" lengthAdjust="spacingAndGlyphs" font-weight="bold" fill="#eceff9" stroke="#eceff9" stroke-width="0.22" font-size="5.6">ОРТАЛЫҚ КОММУНИКАЦИЯЛАР ҚЫЗМЕТІ</text><text x="517.1" y="650.3" text-anchor="middle" textLength="21.3" lengthAdjust="spacingAndGlyphs" font-weight="bold" fill="#eceff9" stroke="#eceff9" stroke-width="0.22" font-size="5.8">ORTCOM.KZ</text><text x="592.4" y="630.9" text-anchor="middle" textLength="21.3" lengthAdjust="spacingAndGlyphs" font-weight="bold" fill="#eceff9" stroke="#eceff9" stroke-width="0.22" font-size="5.8">ORTCOM.KZ</text><text x="593.1" y="665.8" text-anchor="middle" textLength="21.3" lengthAdjust="spacingAndGlyphs" font-weight="bold" fill="#eceff9" stroke="#eceff9" stroke-width="0.22" font-size="5.8">ORTCOM.KZ</text><text x="592.1" y="645.6" text-anchor="middle" textLength="70" lengthAdjust="spacingAndGlyphs" font-weight="bold" fill="#eceff9" stroke="#eceff9" stroke-width="0.22" font-size="5.6">CENTRAL COMMUNICATIONS SERVICE</text><text x="591.4" y="651.6" text-anchor="middle" textLength="46.7" lengthAdjust="spacingAndGlyphs" font-weight="normal" fill="#d9ddf2" stroke="#d9ddf2" stroke-width="0.18" font-size="5.6">UNDER THE PRESIDENT OF THE</text><text x="592.4" y="657.6" text-anchor="middle" textLength="40.7" lengthAdjust="spacingAndGlyphs" font-weight="normal" fill="#d9ddf2" stroke="#d9ddf2" stroke-width="0.18" font-size="5.6">REPUBLIC OF KAZAKHSTAN</text><text x="670.2" y="627.8" text-anchor="middle" textLength="86.7" lengthAdjust="spacingAndGlyphs" font-weight="normal" fill="#d9ddf2" stroke="#d9ddf2" stroke-width="0.18" font-size="5.6">ҚАЗАҚСТАН РЕСПУБЛИКАСЫ ПРЕЗИДЕНТІ ЖАНЫНДАҒЫ</text><text x="670.5" y="633.8" text-anchor="middle" textLength="79.3" lengthAdjust="spacingAndGlyphs" font-weight="bold" fill="#eceff9" stroke="#eceff9" stroke-width="0.22" font-size="5.6">ОРТАЛЫҚ КОММУНИКАЦИЯЛАР ҚЫЗМЕТІ</text><text x="670.2" y="663.6" text-anchor="middle" textLength="81.3" lengthAdjust="spacingAndGlyphs" font-weight="bold" fill="#eceff9" stroke="#eceff9" stroke-width="0.22" font-size="5.6">СЛУЖБА ЦЕНТРАЛЬНЫХ КОММУНИКАЦИЙ</text><text x="669.2" y="669.1" text-anchor="middle" textLength="67.3" lengthAdjust="spacingAndGlyphs" font-weight="normal" fill="#d9ddf2" stroke="#d9ddf2" stroke-width="0.18" font-size="5.6">ПРИ ПРЕЗИДЕНТЕ РЕСПУБЛИКИ КАЗАХСТАН</text><text x="670.2" y="650.3" text-anchor="middle" textLength="21.3" lengthAdjust="spacingAndGlyphs" font-weight="bold" fill="#eceff9" stroke="#eceff9" stroke-width="0.22" font-size="5.8">ORTCOM.KZ</text><text x="745.0" y="630.9" text-anchor="middle" textLength="21.3" lengthAdjust="spacingAndGlyphs" font-weight="bold" fill="#eceff9" stroke="#eceff9" stroke-width="0.22" font-size="5.8">ORTCOM.KZ</text><text x="745.8" y="665.8" text-anchor="middle" textLength="21.3" lengthAdjust="spacingAndGlyphs" font-weight="bold" fill="#eceff9" stroke="#eceff9" stroke-width="0.22" font-size="5.8">ORTCOM.KZ</text><text x="745.2" y="645.6" text-anchor="middle" textLength="70" lengthAdjust="spacingAndGlyphs" font-weight="bold" fill="#eceff9" stroke="#eceff9" stroke-width="0.22" font-size="5.6">CENTRAL COMMUNICATIONS SERVICE</text><text x="744.5" y="651.6" text-anchor="middle" textLength="46.7" lengthAdjust="spacingAndGlyphs" font-weight="normal" fill="#d9ddf2" stroke="#d9ddf2" stroke-width="0.18" font-size="5.6">UNDER THE PRESIDENT OF THE</text><text x="745.5" y="657.6" text-anchor="middle" textLength="40.7" lengthAdjust="spacingAndGlyphs" font-weight="normal" fill="#d9ddf2" stroke="#d9ddf2" stroke-width="0.18" font-size="5.6">REPUBLIC OF KAZAKHSTAN</text><text x="823.3" y="627.8" text-anchor="middle" textLength="81.3" lengthAdjust="spacingAndGlyphs" font-weight="bold" fill="#eceff9" stroke="#eceff9" stroke-width="0.22" font-size="5.6">СЛУЖБА ЦЕНТРАЛЬНЫХ КОММУНИКАЦИЙ</text><text x="822.3" y="633.3" text-anchor="middle" textLength="67.3" lengthAdjust="spacingAndGlyphs" font-weight="normal" fill="#d9ddf2" stroke="#d9ddf2" stroke-width="0.18" font-size="5.6">ПРИ ПРЕЗИДЕНТЕ РЕСПУБЛИКИ КАЗАХСТАН</text><text x="823.3" y="663.6" text-anchor="middle" textLength="86.7" lengthAdjust="spacingAndGlyphs" font-weight="normal" fill="#d9ddf2" stroke="#d9ddf2" stroke-width="0.18" font-size="5.6">ҚАЗАҚСТАН РЕСПУБЛИКАСЫ ПРЕЗИДЕНТІ ЖАНЫНДАҒЫ</text><text x="823.6" y="669.6" text-anchor="middle" textLength="79.3" lengthAdjust="spacingAndGlyphs" font-weight="bold" fill="#eceff9" stroke="#eceff9" stroke-width="0.22" font-size="5.6">ОРТАЛЫҚ КОММУНИКАЦИЯЛАР ҚЫЗМЕТІ</text><text x="823.3" y="650.3" text-anchor="middle" textLength="21.3" lengthAdjust="spacingAndGlyphs" font-weight="bold" fill="#eceff9" stroke="#eceff9" stroke-width="0.22" font-size="5.8">ORTCOM.KZ</text><text x="897.6" y="630.9" text-anchor="middle" textLength="21.3" lengthAdjust="spacingAndGlyphs" font-weight="bold" fill="#eceff9" stroke="#eceff9" stroke-width="0.22" font-size="5.8">ORTCOM.KZ</text><text x="898.4" y="665.8" text-anchor="middle" textLength="21.3" lengthAdjust="spacingAndGlyphs" font-weight="bold" fill="#eceff9" stroke="#eceff9" stroke-width="0.22" font-size="5.8">ORTCOM.KZ</text><text x="898.3" y="645.6" text-anchor="middle" textLength="70" lengthAdjust="spacingAndGlyphs" font-weight="bold" fill="#eceff9" stroke="#eceff9" stroke-width="0.22" font-size="5.6">CENTRAL COMMUNICATIONS SERVICE</text><text x="897.6" y="651.6" text-anchor="middle" textLength="46.7" lengthAdjust="spacingAndGlyphs" font-weight="normal" fill="#d9ddf2" stroke="#d9ddf2" stroke-width="0.18" font-size="5.6">UNDER THE PRESIDENT OF THE</text><text x="898.6" y="657.6" text-anchor="middle" textLength="40.7" lengthAdjust="spacingAndGlyphs" font-weight="normal" fill="#d9ddf2" stroke="#d9ddf2" stroke-width="0.18" font-size="5.6">REPUBLIC OF KAZAKHSTAN</text><text x="976.4" y="627.8" text-anchor="middle" textLength="86.7" lengthAdjust="spacingAndGlyphs" font-weight="normal" fill="#d9ddf2" stroke="#d9ddf2" stroke-width="0.18" font-size="5.6">ҚАЗАҚСТАН РЕСПУБЛИКАСЫ ПРЕЗИДЕНТІ ЖАНЫНДАҒЫ</text><text x="976.7" y="633.8" text-anchor="middle" textLength="79.3" lengthAdjust="spacingAndGlyphs" font-weight="bold" fill="#eceff9" stroke="#eceff9" stroke-width="0.22" font-size="5.6">ОРТАЛЫҚ КОММУНИКАЦИЯЛАР ҚЫЗМЕТІ</text><text x="976.4" y="663.6" text-anchor="middle" textLength="81.3" lengthAdjust="spacingAndGlyphs" font-weight="bold" fill="#eceff9" stroke="#eceff9" stroke-width="0.22" font-size="5.6">СЛУЖБА ЦЕНТРАЛЬНЫХ КОММУНИКАЦИЙ</text><text x="975.4" y="669.1" text-anchor="middle" textLength="67.3" lengthAdjust="spacingAndGlyphs" font-weight="normal" fill="#d9ddf2" stroke="#d9ddf2" stroke-width="0.18" font-size="5.6">ПРИ ПРЕЗИДЕНТЕ РЕСПУБЛИКИ КАЗАХСТАН</text><text x="976.4" y="650.3" text-anchor="middle" textLength="21.3" lengthAdjust="spacingAndGlyphs" font-weight="bold" fill="#eceff9" stroke="#eceff9" stroke-width="0.22" font-size="5.8">ORTCOM.KZ</text><text x="1050.2" y="630.9" text-anchor="middle" textLength="21.3" lengthAdjust="spacingAndGlyphs" font-weight="bold" fill="#eceff9" stroke="#eceff9" stroke-width="0.22" font-size="5.8">ORTCOM.KZ</text><text x="1050.9" y="665.8" text-anchor="middle" textLength="21.3" lengthAdjust="spacingAndGlyphs" font-weight="bold" fill="#eceff9" stroke="#eceff9" stroke-width="0.22" font-size="5.8">ORTCOM.KZ</text><text x="1051.4" y="645.6" text-anchor="middle" textLength="70" lengthAdjust="spacingAndGlyphs" font-weight="bold" fill="#eceff9" stroke="#eceff9" stroke-width="0.22" font-size="5.6">CENTRAL COMMUNICATIONS SERVICE</text><text x="1050.7" y="651.6" text-anchor="middle" textLength="46.7" lengthAdjust="spacingAndGlyphs" font-weight="normal" fill="#d9ddf2" stroke="#d9ddf2" stroke-width="0.18" font-size="5.6">UNDER THE PRESIDENT OF THE</text><text x="1051.7" y="657.6" text-anchor="middle" textLength="40.7" lengthAdjust="spacingAndGlyphs" font-weight="normal" fill="#d9ddf2" stroke="#d9ddf2" stroke-width="0.18" font-size="5.6">REPUBLIC OF KAZAKHSTAN</text><text x="1129.5" y="627.8" text-anchor="middle" textLength="81.3" lengthAdjust="spacingAndGlyphs" font-weight="bold" fill="#eceff9" stroke="#eceff9" stroke-width="0.22" font-size="5.6">СЛУЖБА ЦЕНТРАЛЬНЫХ КОММУНИКАЦИЙ</text><text x="1128.5" y="633.3" text-anchor="middle" textLength="67.3" lengthAdjust="spacingAndGlyphs" font-weight="normal" fill="#d9ddf2" stroke="#d9ddf2" stroke-width="0.18" font-size="5.6">ПРИ ПРЕЗИДЕНТЕ РЕСПУБЛИКИ КАЗАХСТАН</text><text x="1129.5" y="663.6" text-anchor="middle" textLength="86.7" lengthAdjust="spacingAndGlyphs" font-weight="normal" fill="#d9ddf2" stroke="#d9ddf2" stroke-width="0.18" font-size="5.6">ҚАЗАҚСТАН РЕСПУБЛИКАСЫ ПРЕЗИДЕНТІ ЖАНЫНДАҒЫ</text><text x="1129.8" y="669.6" text-anchor="middle" textLength="79.3" lengthAdjust="spacingAndGlyphs" font-weight="bold" fill="#eceff9" stroke="#eceff9" stroke-width="0.22" font-size="5.6">ОРТАЛЫҚ КОММУНИКАЦИЯЛАР ҚЫЗМЕТІ</text><text x="1129.5" y="650.3" text-anchor="middle" textLength="21.3" lengthAdjust="spacingAndGlyphs" font-weight="bold" fill="#eceff9" stroke="#eceff9" stroke-width="0.22" font-size="5.8">ORTCOM.KZ</text><text x="1282.6" y="627.8" text-anchor="middle" textLength="86.7" lengthAdjust="spacingAndGlyphs" font-weight="normal" fill="#d9ddf2" stroke="#d9ddf2" stroke-width="0.18" font-size="5.6">ҚАЗАҚСТАН РЕСПУБЛИКАСЫ ПРЕЗИДЕНТІ ЖАНЫНДАҒЫ</text><text x="1282.9" y="633.8" text-anchor="middle" textLength="79.3" lengthAdjust="spacingAndGlyphs" font-weight="bold" fill="#eceff9" stroke="#eceff9" stroke-width="0.22" font-size="5.6">ОРТАЛЫҚ КОММУНИКАЦИЯЛАР ҚЫЗМЕТІ</text><text x="1282.6" y="663.6" text-anchor="middle" textLength="81.3" lengthAdjust="spacingAndGlyphs" font-weight="bold" fill="#eceff9" stroke="#eceff9" stroke-width="0.22" font-size="5.6">СЛУЖБА ЦЕНТРАЛЬНЫХ КОММУНИКАЦИЙ</text><text x="1281.6" y="669.1" text-anchor="middle" textLength="67.3" lengthAdjust="spacingAndGlyphs" font-weight="normal" fill="#d9ddf2" stroke="#d9ddf2" stroke-width="0.18" font-size="5.6">ПРИ ПРЕЗИДЕНТЕ РЕСПУБЛИКИ КАЗАХСТАН</text></svg>
</div>
</body>
</html>
